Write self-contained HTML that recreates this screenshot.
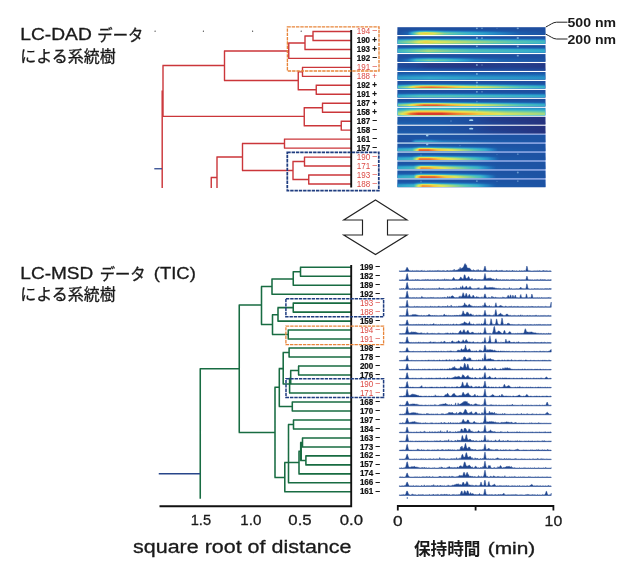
<!DOCTYPE html>
<html lang="ja"><head><meta charset="utf-8"><title>LC-DAD / LC-MSD dendrograms</title>
<style>
html,body{margin:0;padding:0;background:#fff}
body{width:640px;height:568px;overflow:hidden;position:relative;font-family:"Liberation Sans",sans-serif}
svg{position:absolute;left:0;top:0;display:block}
text{font-family:"Liberation Sans",sans-serif;fill:#1a1a1a}
.lb{font-size:8.4px;font-weight:bold;fill:#111;stroke:#111;stroke-width:0.2px}
.lr{font-size:8.4px;font-weight:normal;fill:#dc4a44}
.ax{font-size:14.8px;fill:#1a1a1a;stroke:#1a1a1a;stroke-width:0.3px}
.tt{font-size:15.8px;fill:#1a1a1a;stroke:#1a1a1a;stroke-width:0.3px}
.nm{font-size:13.7px;font-weight:bold;fill:#1a1a1a}
.jp{font-family:"Liberation Sans","Noto Sans CJK JP",sans-serif}
</style></head>
<body>
<svg width="640" height="568" viewBox="0 0 640 568" style="opacity:.999">
<defs>
<filter id="jet" x="0" y="0" width="1" height="1" color-interpolation-filters="sRGB"><feComponentTransfer><feFuncR type="table" tableValues="0.15 0.12 0.11 0.14 0.2 0.33 0.61 0.87 0.96 0.94 0.86"/><feFuncG type="table" tableValues="0.2 0.29 0.37 0.52 0.67 0.77 0.84 0.9 0.79 0.5 0.23"/><feFuncB type="table" tableValues="0.5 0.61 0.68 0.77 0.8 0.71 0.52 0.35 0.24 0.2 0.17"/></feComponentTransfer></filter>
<linearGradient id="gap" x1="0" y1="0" x2="1" y2="0"><stop offset="0" stop-color="#d4ecfa"/><stop offset="0.45" stop-color="#cfe6fa"/><stop offset="0.68" stop-color="#b2c5fb"/><stop offset="1" stop-color="#b0c2fa"/></linearGradient>
<linearGradient id="gvA" x1="0" y1="0" x2="0" y2="1"><stop offset="0" stop-color="#000000"/><stop offset="0.3" stop-color="#080808"/><stop offset="0.48" stop-color="#4c4c4c"/><stop offset="0.66" stop-color="#d9d9d9"/><stop offset="0.8" stop-color="#ffffff"/><stop offset="1" stop-color="#ffffff"/></linearGradient>
<mask id="mA" maskContentUnits="objectBoundingBox" x="0" y="0" width="1" height="1"><rect width="1" height="1" fill="url(#gvA)"/></mask>
<linearGradient id="gvA2" x1="0" y1="0" x2="0" y2="1"><stop offset="0" stop-color="#000000"/><stop offset="0.22" stop-color="#0d0d0d"/><stop offset="0.4" stop-color="#666666"/><stop offset="0.58" stop-color="#e6e6e6"/><stop offset="0.75" stop-color="#ffffff"/><stop offset="1" stop-color="#ffffff"/></linearGradient>
<mask id="mA2" maskContentUnits="objectBoundingBox" x="0" y="0" width="1" height="1"><rect width="1" height="1" fill="url(#gvA2)"/></mask>
<linearGradient id="gvB" x1="0" y1="0" x2="0" y2="1"><stop offset="0" stop-color="#1a1a1a"/><stop offset="0.25" stop-color="#595959"/><stop offset="0.5" stop-color="#bfbfbf"/><stop offset="0.72" stop-color="#ffffff"/><stop offset="1" stop-color="#ffffff"/></linearGradient>
<mask id="mB" maskContentUnits="objectBoundingBox" x="0" y="0" width="1" height="1"><rect width="1" height="1" fill="url(#gvB)"/></mask>
<linearGradient id="gvC" x1="0" y1="0" x2="0" y2="1"><stop offset="0" stop-color="#000000"/><stop offset="0.5" stop-color="#050505"/><stop offset="0.7" stop-color="#737373"/><stop offset="0.9" stop-color="#ffffff"/><stop offset="1" stop-color="#ffffff"/></linearGradient>
<mask id="mC" maskContentUnits="objectBoundingBox" x="0" y="0" width="1" height="1"><rect width="1" height="1" fill="url(#gvC)"/></mask>
<linearGradient id="hx0" x1="0" y1="0" x2="1" y2="0"><stop offset="0" stop-color="#1f1f1f"/><stop offset="0.07" stop-color="#383838"/><stop offset="0.11" stop-color="#808080"/><stop offset="0.15" stop-color="#b8b8b8"/><stop offset="0.19" stop-color="#c7c7c7"/><stop offset="0.24" stop-color="#b8b8b8"/><stop offset="0.32" stop-color="#8f8f8f"/><stop offset="0.46" stop-color="#737373"/><stop offset="0.63" stop-color="#575757"/><stop offset="0.83" stop-color="#333333"/><stop offset="1" stop-color="#262626"/></linearGradient>
<linearGradient id="hx1" x1="0" y1="0" x2="1" y2="0"><stop offset="0" stop-color="#808080"/><stop offset="0.09" stop-color="#999999"/><stop offset="0.14" stop-color="#b2b2b2"/><stop offset="0.19" stop-color="#c4c4c4"/><stop offset="0.29" stop-color="#b2b2b2"/><stop offset="0.49" stop-color="#9e9e9e"/><stop offset="0.69" stop-color="#8c8c8c"/><stop offset="1" stop-color="#737373"/></linearGradient>
<linearGradient id="hx2" x1="0" y1="0" x2="1" y2="0"><stop offset="0" stop-color="#737373"/><stop offset="0.12" stop-color="#8c8c8c"/><stop offset="0.21" stop-color="#9e9e9e"/><stop offset="0.36" stop-color="#8c8c8c"/><stop offset="0.49" stop-color="#808080"/><stop offset="0.76" stop-color="#737373"/><stop offset="1" stop-color="#666666"/></linearGradient>
<linearGradient id="hx3" x1="0" y1="0" x2="1" y2="0"><stop offset="0" stop-color="#262626"/><stop offset="0.07" stop-color="#404040"/><stop offset="0.13" stop-color="#7a7a7a"/><stop offset="0.21" stop-color="#8c8c8c"/><stop offset="0.32" stop-color="#808080"/><stop offset="0.41" stop-color="#6b6b6b"/><stop offset="0.52" stop-color="#4c4c4c"/><stop offset="0.69" stop-color="#383838"/><stop offset="1" stop-color="#262626"/></linearGradient>
<linearGradient id="hb4" x1="0" y1="0" x2="1" y2="0"><stop offset="0" stop-color="#1a1a1a"/><stop offset="0.12" stop-color="#141414"/><stop offset="0.21" stop-color="#080808"/><stop offset="0.49" stop-color="#050505"/><stop offset="0.73" stop-color="#0d0d0d"/><stop offset="1" stop-color="#080808"/></linearGradient>
<linearGradient id="hx4" x1="0" y1="0" x2="1" y2="0"><stop offset="0" stop-color="#3d3d3d"/><stop offset="0.15" stop-color="#333333"/><stop offset="0.49" stop-color="#262626"/><stop offset="1" stop-color="#1a1a1a"/></linearGradient>
<linearGradient id="hx5" x1="0" y1="0" x2="1" y2="0"><stop offset="0" stop-color="#5c5c5c"/><stop offset="0.22" stop-color="#666666"/><stop offset="0.56" stop-color="#5c5c5c"/><stop offset="1" stop-color="#545454"/></linearGradient>
<linearGradient id="hx6" x1="0" y1="0" x2="1" y2="0"><stop offset="0" stop-color="#808080"/><stop offset="0.07" stop-color="#9e9e9e"/><stop offset="0.12" stop-color="#d1d1d1"/><stop offset="0.16" stop-color="#e6e6e6"/><stop offset="0.23" stop-color="#ededed"/><stop offset="0.33" stop-color="#e0e0e0"/><stop offset="0.46" stop-color="#bfbfbf"/><stop offset="0.63" stop-color="#a6a6a6"/><stop offset="0.83" stop-color="#808080"/><stop offset="1" stop-color="#6b6b6b"/></linearGradient>
<linearGradient id="hx7" x1="0" y1="0" x2="1" y2="0"><stop offset="0" stop-color="#666666"/><stop offset="0.15" stop-color="#808080"/><stop offset="0.36" stop-color="#808080"/><stop offset="0.69" stop-color="#737373"/><stop offset="1" stop-color="#666666"/></linearGradient>
<linearGradient id="hx8" x1="0" y1="0" x2="1" y2="0"><stop offset="0" stop-color="#8c8c8c"/><stop offset="0.07" stop-color="#a8a8a8"/><stop offset="0.13" stop-color="#dbdbdb"/><stop offset="0.18" stop-color="#f5f5f5"/><stop offset="0.27" stop-color="#f2f2f2"/><stop offset="0.36" stop-color="#dbdbdb"/><stop offset="0.49" stop-color="#bfbfbf"/><stop offset="0.63" stop-color="#a6a6a6"/><stop offset="0.83" stop-color="#808080"/><stop offset="1" stop-color="#6b6b6b"/></linearGradient>
<linearGradient id="hx9" x1="0" y1="0" x2="1" y2="0"><stop offset="0" stop-color="#999999"/><stop offset="0.04" stop-color="#b8b8b8"/><stop offset="0.09" stop-color="#ebebeb"/><stop offset="0.14" stop-color="#ffffff"/><stop offset="0.3" stop-color="#ffffff"/><stop offset="0.4" stop-color="#e6e6e6"/><stop offset="0.5" stop-color="#d6d6d6"/><stop offset="0.59" stop-color="#c2c2c2"/><stop offset="0.73" stop-color="#adadad"/><stop offset="1" stop-color="#999999"/></linearGradient>
<linearGradient id="hb10" x1="0" y1="0" x2="1" y2="0"><stop offset="0" stop-color="#2b2b2b"/><stop offset="0.29" stop-color="#292929"/><stop offset="0.49" stop-color="#1f1f1f"/><stop offset="0.64" stop-color="#0d0d0d"/><stop offset="1" stop-color="#000000"/></linearGradient>
<linearGradient id="hx10" x1="0" y1="0" x2="1" y2="0"><stop offset="0" stop-color="#383838"/><stop offset="0.29" stop-color="#333333"/><stop offset="0.56" stop-color="#1a1a1a"/><stop offset="1" stop-color="#000000"/></linearGradient>
<linearGradient id="hb11" x1="0" y1="0" x2="1" y2="0"><stop offset="0" stop-color="#292929"/><stop offset="0.29" stop-color="#262626"/><stop offset="0.49" stop-color="#1c1c1c"/><stop offset="0.64" stop-color="#0d0d0d"/><stop offset="1" stop-color="#000000"/></linearGradient>
<linearGradient id="hx11" x1="0" y1="0" x2="1" y2="0"><stop offset="0" stop-color="#333333"/><stop offset="0.29" stop-color="#2e2e2e"/><stop offset="0.56" stop-color="#1a1a1a"/><stop offset="1" stop-color="#000000"/></linearGradient>
<linearGradient id="hx12" x1="0" y1="0" x2="1" y2="0"><stop offset="0" stop-color="#1f1f1f"/><stop offset="0.09" stop-color="#262626"/><stop offset="0.12" stop-color="#666666"/><stop offset="0.17" stop-color="#737373"/><stop offset="0.23" stop-color="#666666"/><stop offset="0.3" stop-color="#4c4c4c"/><stop offset="0.56" stop-color="#383838"/><stop offset="1" stop-color="#262626"/></linearGradient>
<linearGradient id="hx13" x1="0" y1="0" x2="1" y2="0"><stop offset="0" stop-color="#6b6b6b"/><stop offset="0.1" stop-color="#787878"/><stop offset="0.13" stop-color="#b2b2b2"/><stop offset="0.15" stop-color="#f2f2f2"/><stop offset="0.21" stop-color="#f2f2f2"/><stop offset="0.27" stop-color="#d1d1d1"/><stop offset="0.39" stop-color="#adadad"/><stop offset="0.49" stop-color="#8c8c8c"/><stop offset="0.59" stop-color="#6b6b6b"/><stop offset="0.68" stop-color="#333333"/><stop offset="1" stop-color="#262626"/></linearGradient>
<linearGradient id="hx14" x1="0" y1="0" x2="1" y2="0"><stop offset="0" stop-color="#666666"/><stop offset="0.1" stop-color="#737373"/><stop offset="0.13" stop-color="#b2b2b2"/><stop offset="0.15" stop-color="#ededed"/><stop offset="0.22" stop-color="#ebebeb"/><stop offset="0.31" stop-color="#c7c7c7"/><stop offset="0.42" stop-color="#a3a3a3"/><stop offset="0.52" stop-color="#808080"/><stop offset="0.61" stop-color="#5c5c5c"/><stop offset="0.69" stop-color="#2e2e2e"/><stop offset="1" stop-color="#262626"/></linearGradient>
<linearGradient id="hx15" x1="0" y1="0" x2="1" y2="0"><stop offset="0" stop-color="#666666"/><stop offset="0.11" stop-color="#737373"/><stop offset="0.14" stop-color="#b2b2b2"/><stop offset="0.16" stop-color="#e0e0e0"/><stop offset="0.22" stop-color="#d9d9d9"/><stop offset="0.3" stop-color="#b8b8b8"/><stop offset="0.42" stop-color="#949494"/><stop offset="0.54" stop-color="#707070"/><stop offset="0.67" stop-color="#2e2e2e"/><stop offset="1" stop-color="#262626"/></linearGradient>
<linearGradient id="hx16" x1="0" y1="0" x2="1" y2="0"><stop offset="0" stop-color="#666666"/><stop offset="0.11" stop-color="#737373"/><stop offset="0.13" stop-color="#bfbfbf"/><stop offset="0.16" stop-color="#f5f5f5"/><stop offset="0.25" stop-color="#f0f0f0"/><stop offset="0.33" stop-color="#cccccc"/><stop offset="0.44" stop-color="#a3a3a3"/><stop offset="0.56" stop-color="#787878"/><stop offset="0.67" stop-color="#2e2e2e"/><stop offset="1" stop-color="#262626"/></linearGradient>
<linearGradient id="hx17" x1="0" y1="0" x2="1" y2="0"><stop offset="0" stop-color="#5c5c5c"/><stop offset="0.11" stop-color="#707070"/><stop offset="0.14" stop-color="#b2b2b2"/><stop offset="0.17" stop-color="#e0e0e0"/><stop offset="0.22" stop-color="#d9d9d9"/><stop offset="0.29" stop-color="#b8b8b8"/><stop offset="0.42" stop-color="#8c8c8c"/><stop offset="0.54" stop-color="#6b6b6b"/><stop offset="0.67" stop-color="#2e2e2e"/><stop offset="1" stop-color="#262626"/></linearGradient>
</defs>
<g fill="#333"><circle cx="155.1" cy="31.2" r="0.6"/><circle cx="203.4" cy="31.2" r="0.6"/><circle cx="252.6" cy="31.2" r="0.6"/><circle cx="301.2" cy="31.2" r="0.6"/></g>
<rect x="397.4" y="133.42" width="148.1" height="53.35" fill="url(#gap)"/>
<g filter="url(#jet)">
<rect x="397.4" y="27.2" width="148.1" height="7.75" fill="#1f1f1f"/>
<rect x="397.4" y="27.2" width="148.1" height="7.75" fill="url(#hx0)" mask="url(#mA)"/>
<rect x="397.4" y="36.16" width="148.1" height="7.75" fill="#1f1f1f"/>
<rect x="397.4" y="36.16" width="148.1" height="7.75" fill="url(#hx1)" mask="url(#mA2)"/>
<rect x="397.4" y="45.12" width="148.1" height="7.75" fill="#1f1f1f"/>
<rect x="397.4" y="45.12" width="148.1" height="7.75" fill="url(#hx2)" mask="url(#mA2)"/>
<rect x="397.4" y="54.08" width="148.1" height="7.75" fill="#1f1f1f"/>
<rect x="397.4" y="54.08" width="148.1" height="7.75" fill="url(#hx3)" mask="url(#mA)"/>
<rect x="397.4" y="63.04" width="148.1" height="7.75" fill="url(#hb4)"/>
<rect x="397.4" y="63.04" width="148.1" height="7.75" fill="url(#hx4)" mask="url(#mC)"/>
<rect x="397.4" y="72" width="148.1" height="7.75" fill="#212121"/>
<rect x="397.4" y="72" width="148.1" height="7.75" fill="url(#hx5)" mask="url(#mB)"/>
<rect x="397.4" y="80.96" width="148.1" height="7.75" fill="#1f1f1f"/>
<rect x="397.4" y="80.96" width="148.1" height="7.75" fill="url(#hx6)" mask="url(#mA)"/>
<rect x="397.4" y="89.92" width="148.1" height="7.75" fill="#1f1f1f"/>
<rect x="397.4" y="89.92" width="148.1" height="7.75" fill="url(#hx7)" mask="url(#mA)"/>
<rect x="397.4" y="98.88" width="148.1" height="7.75" fill="#1f1f1f"/>
<rect x="397.4" y="98.88" width="148.1" height="7.75" fill="url(#hx8)" mask="url(#mA)"/>
<rect x="397.4" y="107.84" width="148.1" height="7.75" fill="#474747"/>
<rect x="397.4" y="107.84" width="148.1" height="7.75" fill="url(#hx9)" mask="url(#mB)"/>
<rect x="397.4" y="116.8" width="148.1" height="7.75" fill="url(#hb10)"/>
<rect x="397.4" y="116.8" width="148.1" height="7.75" fill="url(#hx10)" mask="url(#mC)"/>
<rect x="397.4" y="125.76" width="148.1" height="7.75" fill="url(#hb11)"/>
<rect x="397.4" y="125.76" width="148.1" height="7.75" fill="url(#hx11)" mask="url(#mC)"/>
<rect x="397.4" y="134.72" width="148.1" height="7.75" fill="#262626"/>
<rect x="397.4" y="134.72" width="148.1" height="7.75" fill="url(#hx12)" mask="url(#mC)"/>
<rect x="397.4" y="143.68" width="148.1" height="7.75" fill="#262626"/>
<rect x="397.4" y="143.68" width="148.1" height="7.75" fill="url(#hx13)" mask="url(#mA)"/>
<rect x="397.4" y="152.64" width="148.1" height="7.75" fill="#262626"/>
<rect x="397.4" y="152.64" width="148.1" height="7.75" fill="url(#hx14)" mask="url(#mA)"/>
<rect x="397.4" y="161.6" width="148.1" height="7.75" fill="#262626"/>
<rect x="397.4" y="161.6" width="148.1" height="7.75" fill="url(#hx15)" mask="url(#mA)"/>
<rect x="397.4" y="170.56" width="148.1" height="7.75" fill="#262626"/>
<rect x="397.4" y="170.56" width="148.1" height="7.75" fill="url(#hx16)" mask="url(#mA)"/>
<rect x="397.4" y="179.52" width="148.1" height="7.75" fill="#262626"/>
<rect x="397.4" y="179.52" width="148.1" height="7.75" fill="url(#hx17)" mask="url(#mA)"/>
</g>
<g fill="#b4e2f8"><ellipse cx="476.9" cy="28.37" rx="1" ry="0.9" fill-opacity="0.55"/><ellipse cx="482" cy="28.37" rx="0.9" ry="0.8" fill-opacity="0.45"/><ellipse cx="517.8" cy="28.37" rx="1.1" ry="0.9" fill-opacity="0.55"/><ellipse cx="497" cy="28.37" rx="0.7" ry="0.7" fill-opacity="0.3"/><ellipse cx="476.9" cy="38.11" rx="1.1" ry="1" fill-opacity="0.6"/><ellipse cx="482" cy="38.11" rx="1" ry="0.9" fill-opacity="0.5"/><ellipse cx="517.8" cy="38.11" rx="1.2" ry="1" fill-opacity="0.55"/><ellipse cx="476.9" cy="46.3" rx="1" ry="0.9" fill-opacity="0.55"/><ellipse cx="517.8" cy="46.45" rx="1.1" ry="0.9" fill-opacity="0.55"/><ellipse cx="517.8" cy="55.64" rx="1.1" ry="0.9" fill-opacity="0.55"/><ellipse cx="476.9" cy="64.99" rx="1" ry="0.9" fill-opacity="0.55"/><ellipse cx="482" cy="64.99" rx="0.8" ry="0.8" fill-opacity="0.35"/><ellipse cx="476.9" cy="73.95" rx="1" ry="0.9" fill-opacity="0.55"/><ellipse cx="476.9" cy="82.52" rx="1.1" ry="1" fill-opacity="0.55"/><ellipse cx="476.9" cy="86.01" rx="0.9" ry="1.2" fill-opacity="0.35"/><ellipse cx="476.9" cy="91.87" rx="1" ry="0.9" fill-opacity="0.55"/><ellipse cx="482" cy="91.87" rx="0.8" ry="0.8" fill-opacity="0.4"/><ellipse cx="476.9" cy="101.61" rx="0.9" ry="0.9" fill-opacity="0.3"/><ellipse cx="476.9" cy="110.18" rx="0.9" ry="0.9" fill-opacity="0.35"/><ellipse cx="471.2" cy="120.15" rx="2.2" ry="0.9" fill-opacity="0.9"/><ellipse cx="451" cy="121.08" rx="0.9" ry="0.8" fill-opacity="0.3"/><ellipse cx="471.2" cy="128.64" rx="2.2" ry="0.9" fill-opacity="0.9"/><ellipse cx="427.2" cy="135.59" rx="1.3" ry="1" fill-opacity="0.85"/><ellipse cx="427.2" cy="144.47" rx="1.2" ry="0.9" fill-opacity="0.7"/><ellipse cx="460" cy="145.63" rx="0.7" ry="0.7" fill-opacity="0.3"/><ellipse cx="421" cy="154.98" rx="0.7" ry="0.7" fill-opacity="0.3"/><ellipse cx="421" cy="172.51" rx="0.7" ry="1" fill-opacity="0.35"/><ellipse cx="421" cy="181.47" rx="0.7" ry="1" fill-opacity="0.35"/><ellipse cx="517.8" cy="154.2" rx="0.9" ry="0.9" fill-opacity="0.35"/><ellipse cx="517.8" cy="172.51" rx="1" ry="1" fill-opacity="0.5"/><ellipse cx="517.8" cy="181.08" rx="0.9" ry="0.9" fill-opacity="0.4"/><ellipse cx="476.9" cy="181.08" rx="0.9" ry="0.9" fill-opacity="0.5"/><ellipse cx="497" cy="154.59" rx="0.6" ry="0.6" fill-opacity="0.25"/><ellipse cx="497" cy="181.47" rx="0.6" ry="0.6" fill-opacity="0.25"/></g>
<path d="M545.8 27C550 25 553 22.2 556.6 22.2H567.5M545.8 34.2C550 36 553 39 556.6 39H567.5" fill="none" stroke="#222" stroke-width="1"/>
<text class="nm" x="567.5" y="27" textLength="48.5" lengthAdjust="spacingAndGlyphs">500 nm</text>
<text class="nm" x="567.5" y="43.8" textLength="48.5" lengthAdjust="spacingAndGlyphs">200 nm</text>
<path d="M312.4 31.5H351.25M312.4 40.47H351.25M313 31.5V40.47M304.4 36H313M304.4 49.44H351.25M305 36V49.44M288.15 43H305M288.15 58.41H351.25M288.75 43V58.41M223.9 51H288.75M301.9 67.38H351.25M301.9 76.35H351.25M302.5 67.38V76.35M315.65 85.32H351.25M315.65 94.29H351.25M316.25 85.32V94.29M297.65 71.9H302.5M297.65 89.8H316.25M298.25 71.9V89.8M223.9 80.5H298.25M224.5 51V80.5M162.4 65.5H224.5M321.9 103.26H351.25M321.9 112.23H351.25M322.5 103.26V112.23M340.65 121.2H351.25M340.65 130.17H351.25M341.25 121.2V130.17M303.65 107.7H322.5M303.65 125.7H341.25M304.25 107.7V125.7M162.4 116.4H304.25M163 65.5V116.4M283.9 139.14H351.25M283.9 148.11H351.25M284.5 139.14V148.11M241.9 143.5H284.5M303.9 157.08H351.25M303.9 166.05H351.25M304.5 157.08V166.05M308.15 175.02H351.25M308.15 183.99H351.25M308.75 175.02V183.99M292.4 161.5H304.5M292.4 179.5H308.75M293 161.5V179.5M241.9 170.5H293M242.5 143.5V170.5M216.4 157H242.5M217 157V188M210.65 177.5H217M211.25 177.5V188" fill="none" stroke="#cb363a" stroke-width="1.4"/>
<path d="M162.2 90.5V188" fill="none" stroke="#cb363a" stroke-width="1.45"/>
<path d="M154.3 168.75H162" fill="none" stroke="#2f4a90" stroke-width="1.3"/>
<path d="M299.9 267.2H351.25M299.9 276.19H351.25M300.5 267.2V276.19M292.65 271.69H300.5M292.65 285.17H351.25M293.25 271.69V285.17M271.4 278.9H293.25M271.4 294.15H351.25M272 278.9V294.15M260.9 286.5H272M292.65 303.14H351.25M292.65 312.12H351.25M293.25 303.14V312.12M277.4 307.63H293.25M277.4 321.11H351.25M278 307.63V321.11M287.65 330.09H351.25M287.65 339.08H351.25M288.25 330.09V339.08M271.9 314.7H278M271.9 334.59H288.25M272.5 314.7V334.59M260.9 324.5H272.5M261.5 286.5V324.5M238.65 305H261.5M288.5 348.06H351.25M288.5 357.05H351.25M289.1 348.06V357.05M282.6 352.56H289.1M298 366.03H351.25M298 375.02H351.25M298.6 366.03V375.02M290.1 370.53H298.6M282.6 384H351.25M290.7 370.53V384M289 392.99H351.25M289.6 377.8V392.99M283.2 352.56V384M278.7 368.6H283.2M291.7 401.97H351.25M291.7 410.96H351.25M292.3 401.97V410.96M278.7 406.47H292.3M279.3 368.6V406.47M274.4 387.3H279.3M275 387.3V477.4M292.9 419.94H351.25M292.9 428.93H351.25M293.5 419.94V428.93M287.9 424.44H293.5M287.9 482.84H351.25M288.5 424.44V482.84M301.9 437.91H351.25M301.9 446.9H351.25M302.5 437.91V446.9M305.3 455.88H351.25M305.3 464.87H351.25M305.9 455.88V464.87M300.1 442.6H302.5M300.1 460.4H305.9M300.7 442.6V460.4M301.2 442.6V460.4M298.4 451.2H300.7M298.4 473.85H351.25M299 451.2V473.85M284.2 462.4H299M284.2 491.82H351.25M284.8 462.4V491.82M274.4 477.4H284.8M238.65 432.5H275M239.25 305V432.5M199.65 368.75H239.25M200.25 368.75V498.75" fill="none" stroke="#186c42" stroke-width="1.55"/>
<path d="M158.75 473.75H200.25" fill="none" stroke="#28468a" stroke-width="1.4"/>
<path d="M351.2 30V187.5M351.2 265V507.2M159.5 506.25H352.1" fill="none" stroke="#111" stroke-width="1.9"/>
<path d="M397.8 510.6V506H553.4V510.6M475.6 506V510.6" fill="none" stroke="#111" stroke-width="1.8"/>
<rect x="287.4" y="26.8" width="91.6" height="44.2" fill="none" stroke="#e8853a" stroke-width="1.35" stroke-dasharray="3.4 0.9"/>
<rect x="287.3" y="152.3" width="91.5" height="38.3" fill="none" stroke="#1f3d80" stroke-width="1.75" stroke-dasharray="3.4 0.9"/>
<rect x="285.9" y="298.8" width="97.7" height="18" fill="none" stroke="#1f3d80" stroke-width="1.5" stroke-dasharray="3.4 0.9"/>
<rect x="285.9" y="326.1" width="97.7" height="18.5" fill="none" stroke="#e8853a" stroke-width="1.3" stroke-dasharray="3.4 0.9"/>
<rect x="286" y="378.8" width="97.6" height="18.6" fill="none" stroke="#1f3d80" stroke-width="1.5" stroke-dasharray="3.4 0.9"/>
<path d="M375.5 200L407 220H387.5V235H407L375.5 254.5L343.75 235H362.5V220H343.75Z" fill="#fff" stroke="#222" stroke-width="1.15" stroke-linejoin="miter"/>
<g fill="#1f4690" stroke="#1f4690" stroke-width="0.45" stroke-linejoin="round">
<path d="M399.36 271.45 L399.36 270.67 399.85 270.91 400.35 270.99 400.85 270.92 401.35 270.85 401.85 271 402.34 271 402.84 270.66 403.34 270.8 403.84 270.88 404.34 270.85 404.83 270.84 405.33 270.45 405.83 269.76 406.33 268.64 406.82 267.42 407.32 267.46 407.82 268.37 408.32 269.5 408.82 270.1 409.31 270.49 409.81 270.93 410.31 270.91 410.81 270.58 411.31 270.99 411.8 270.7 412.3 270.66 412.8 270.52 413.3 270.78 413.8 270.91 414.29 270.84 414.79 270.77 415.29 270.64 415.79 270.88 416.29 270.55 416.78 270.85 417.28 270.73 417.78 270.67 418.28 270.6 418.77 270.93 419.27 270.81 419.77 270.96 420.27 270.87 420.77 270.82 421.26 270.6 421.76 270.57 422.26 270.91 422.76 270.46 423.26 270.93 423.75 270.87 424.25 270.53 424.75 270.94 425.25 270.97 425.75 270.94 426.24 270.97 426.74 270.92 427.24 270.63 427.74 270.87 428.24 270.97 428.73 270.68 429.23 270.9 429.73 270.48 430.23 270.97 430.72 270.53 431.22 270.89 431.72 270.75 432.22 270.66 432.72 270.69 433.21 270.91 433.71 270.65 434.21 270.55 434.71 270.91 435.21 270.97 435.7 270.55 436.2 270.53 436.7 270.93 437.2 270.89 437.7 270.2 438.19 270.94 438.69 270.41 439.19 270.78 439.69 270.7 440.19 270.86 440.68 270.68 441.18 270.93 441.68 270.79 442.18 270.89 442.68 270.53 443.17 270.44 443.67 270.75 444.17 270.8 444.67 270.75 445.16 271 445.66 270.97 446.16 270.74 446.66 270.98 447.16 270.11 447.65 270.65 448.15 270.86 448.65 270.81 449.15 270.64 449.65 270.84 450.14 270.83 450.64 270.38 451.14 270.69 451.64 270.73 452.14 270.35 452.63 270.87 453.13 270.17 453.63 270.68 454.13 269.04 454.63 270.66 455.12 270.26 455.62 270.4 456.12 270 456.62 270.36 457.11 270.31 457.61 269.97 458.11 269.7 458.61 269.01 459.11 269.44 459.6 269.01 460.1 267.27 460.6 268.89 461.1 268.69 461.6 268.13 462.09 268.06 462.59 267.89 463.09 267.25 463.59 266.91 464.09 265.59 464.58 264.37 465.08 263.56 465.58 264.2 466.08 265.18 466.58 265.33 467.07 268.1 467.57 267.95 468.07 267.72 468.57 268.29 469.06 267.9 469.56 268.18 470.06 268.79 470.56 269.22 471.06 269.66 471.55 270.29 472.05 270.55 472.55 270.37 473.05 270.7 473.55 269.58 474.04 270.91 474.54 270.07 475.04 270.87 475.54 270.64 476.04 270.46 476.53 270.17 477.03 270.25 477.53 270.63 478.03 269.39 478.53 270.28 479.02 270.56 479.52 270.81 480.02 270.13 480.52 270.31 481.01 270.78 481.51 270.49 482.01 270.68 482.51 270.74 483.01 270.5 483.5 270.43 484 269.35 484.5 267.2 485 265.99 485.5 267.52 485.99 269.72 486.49 270.83 486.99 270.58 487.49 270.76 487.99 270.45 488.48 270.72 488.98 270.8 489.48 270.84 489.98 270.88 490.48 270.51 490.97 270.95 491.47 270.27 491.97 270.47 492.47 270.72 492.96 270.9 493.46 270.57 493.96 270.9 494.46 270.72 494.96 270.6 495.45 270.71 495.95 270.26 496.45 270.26 496.95 270.33 497.45 270.78 497.94 270.68 498.44 270.95 498.94 270.43 499.44 270.66 499.94 270.52 500.43 270.56 500.93 270.88 501.43 270.75 501.93 269.93 502.43 270.75 502.92 270.86 503.42 270.95 503.92 270.65 504.42 270.9 504.92 270.82 505.41 270.91 505.91 270.86 506.41 270.83 506.91 270.27 507.4 270.99 507.9 270.66 508.4 270.84 508.9 270.95 509.4 270.53 509.89 270.94 510.39 270.94 510.89 270.73 511.39 270.99 511.89 270.82 512.38 270.06 512.88 270.99 513.38 270.82 513.88 270.97 514.38 270.87 514.87 270.76 515.37 270.98 515.87 270.9 516.37 270.72 516.87 270.73 517.36 270.92 517.86 270.88 518.36 270.93 518.86 270.97 519.35 270.57 519.85 270.71 520.35 271 520.85 270.84 521.35 270.74 521.84 270.72 522.34 270.87 522.84 270.98 523.34 270.7 523.84 270.96 524.33 270.95 524.83 270.23 525.33 270.89 525.83 270.64 526.33 268.6 526.82 266.06 527.32 267.07 527.82 270 528.32 270.78 528.82 270.74 529.31 270.83 529.81 270.64 530.31 270.92 530.81 270.71 531.3 270.99 531.8 270.9 532.3 270.94 532.8 270.9 533.3 270.87 533.79 271 534.29 270.73 534.79 270.9 535.29 270.86 535.79 270.88 536.28 270.82 536.78 270.89 537.28 270.92 537.78 270.55 538.28 270.83 538.77 270.89 539.27 270.59 539.77 270.66 540.27 270.96 540.77 270.85 541.26 270.98 541.76 270.91 542.26 270.79 542.76 270.74 543.25 270.83 543.75 270.26 544.25 270.99 544.75 270.76 545.25 270.82 545.74 270.92 546.24 270.81 546.74 270.65 547.24 271 547.74 270.68 548.23 270.89 548.73 270.94 549.23 270.97 549.73 270.7 550.23 270.95 550.72 270.82 551.22 270.97 L551.22 271.45Z"/>
<path d="M399.36 280.41 L399.36 279.95 399.85 279.76 400.35 279.9 400.85 279.88 401.35 279.9 401.85 279.86 402.34 279.62 402.84 279.96 403.34 279.88 403.84 279.79 404.34 279.94 404.83 279.86 405.33 279.53 405.83 279.01 406.33 276.89 406.82 274.07 407.32 273.54 407.82 276.02 408.32 278.48 408.82 279.69 409.31 279.91 409.81 279.93 410.31 279.86 410.81 279.89 411.31 279.91 411.8 279.8 412.3 279.8 412.8 279.79 413.3 279.79 413.8 279.93 414.29 279.92 414.79 279.71 415.29 279.6 415.79 279.5 416.29 279.87 416.78 279.89 417.28 279.2 417.78 279.96 418.28 279.74 418.77 279.64 419.27 279.79 419.77 279.94 420.27 279.95 420.77 279.91 421.26 279.8 421.76 279.91 422.26 279.72 422.76 279.7 423.26 279.95 423.75 279.56 424.25 279.82 424.75 279.85 425.25 279.36 425.75 279.77 426.24 279.96 426.74 279.56 427.24 279.47 427.74 279.51 428.24 279.77 428.73 279.44 429.23 279.81 429.73 279.89 430.23 279.54 430.72 279.82 431.22 279.83 431.72 279.94 432.22 279.41 432.72 279.86 433.21 279.91 433.71 279.68 434.21 279.33 434.71 279.75 435.21 279.85 435.7 279.82 436.2 279.9 436.7 279.64 437.2 279.5 437.7 279.58 438.19 279.29 438.69 279.76 439.19 279.95 439.69 279.74 440.19 279.71 440.68 279.76 441.18 279.64 441.68 279.85 442.18 279.78 442.68 279.46 443.17 279.84 443.67 279.66 444.17 279.74 444.67 278.66 445.16 279.79 445.66 279.85 446.16 279.68 446.66 279.34 447.16 279.48 447.65 279.66 448.15 279.26 448.65 279.76 449.15 279.81 449.65 279.68 450.14 279.64 450.64 279.67 451.14 279.89 451.64 279.69 452.14 279.25 452.63 278.99 453.13 278.36 453.63 277.36 454.13 278.4 454.63 278.81 455.12 279.22 455.62 279.77 456.12 279.57 456.62 279.59 457.11 279.68 457.61 279.79 458.11 279.2 458.61 279.73 459.11 279.04 459.6 278.86 460.1 278.34 460.6 277.01 461.1 277.2 461.6 278.27 462.09 278.42 462.59 279.02 463.09 278.92 463.59 278.2 464.09 275.47 464.58 274.65 465.08 275.34 465.58 277.34 466.08 278.16 466.58 278.53 467.07 278.34 467.57 278.29 468.07 277.03 468.57 276.48 469.06 277.2 469.56 278.52 470.06 279.31 470.56 279.28 471.06 278.89 471.55 279.28 472.05 278.18 472.55 279.43 473.05 279.62 473.55 279.91 474.04 279.32 474.54 279.45 475.04 279.43 475.54 279.11 476.04 279.42 476.53 279.6 477.03 279.74 477.53 279.9 478.03 279.13 478.53 279.9 479.02 279.11 479.52 279.71 480.02 279.67 480.52 279.49 481.01 279.92 481.51 279.73 482.01 279.24 482.51 279.65 483.01 279.56 483.5 279.39 484 278.08 484.5 275.15 485 273.38 485.5 275.4 485.99 277.9 486.49 279.06 486.99 278.79 487.49 278.43 487.99 278.48 488.48 278.32 488.98 278.35 489.48 278.15 489.98 278.45 490.48 278.06 490.97 278.54 491.47 278.71 491.97 278.64 492.47 279.17 492.96 278.95 493.46 279.11 493.96 279.26 494.46 279.68 494.96 279.69 495.45 279.72 495.95 279.69 496.45 278.41 496.95 279.45 497.45 279.4 497.94 279.49 498.44 279.41 498.94 279.89 499.44 279.81 499.94 279.55 500.43 279.41 500.93 279.74 501.43 279.95 501.93 279.78 502.43 279.81 502.92 279.5 503.42 279.75 503.92 279.69 504.42 279.69 504.92 279.62 505.41 279.93 505.91 279.74 506.41 279.51 506.91 279.77 507.4 279.73 507.9 279.84 508.4 279.67 508.9 279.76 509.4 279.93 509.89 279.92 510.39 279.63 510.89 279.86 511.39 279.81 511.89 279.61 512.38 279.46 512.88 279.63 513.38 279.62 513.88 279.69 514.38 279.6 514.87 279.86 515.37 279.86 515.87 279.93 516.37 279.76 516.87 279.87 517.36 279.92 517.86 279.85 518.36 279.76 518.86 279.56 519.35 279.57 519.85 279.91 520.35 279.91 520.85 279.43 521.35 279.82 521.84 279.87 522.34 279.72 522.84 279.79 523.34 279.79 523.84 279.86 524.33 279.68 524.83 279.85 525.33 279.93 525.83 279.37 526.33 278.02 526.82 276.07 527.32 276.72 527.82 278.9 528.32 279.72 528.82 279.67 529.31 279.84 529.81 279.76 530.31 279.81 530.81 279.77 531.3 279.72 531.8 279.95 532.3 279.86 532.8 279.73 533.3 279.89 533.79 279.91 534.29 279.82 534.79 279.76 535.29 279.74 535.79 279.88 536.28 279.86 536.78 279.67 537.28 279.49 537.78 279.71 538.28 279.93 538.77 279.66 539.27 279.88 539.77 279.8 540.27 279.33 540.77 279.74 541.26 279.95 541.76 279.51 542.26 279.83 542.76 279.6 543.25 279.77 543.75 279.74 544.25 279.61 544.75 279.72 545.25 279.77 545.74 279.84 546.24 279.95 546.74 279.9 547.24 279.68 547.74 279.93 548.23 279.78 548.73 279.78 549.23 279.93 549.73 279.84 550.23 279.79 550.72 279.7 551.22 279.64 L551.22 280.41Z"/>
<path d="M399.36 289.37 L399.36 288.86 399.85 288.77 400.35 288.91 400.85 288.82 401.35 288.61 401.85 288.69 402.34 288.7 402.84 288.85 403.34 288.19 403.84 288.87 404.34 288.89 404.83 288.9 405.33 288.59 405.83 287.92 406.33 285.67 406.82 282.84 407.32 282.51 407.82 284.98 408.32 287.27 408.82 288.38 409.31 288.78 409.81 288.55 410.31 288.84 410.81 288.85 411.31 288.89 411.8 288.85 412.3 288.42 412.8 288.83 413.3 288.83 413.8 288.92 414.29 288.29 414.79 288.68 415.29 288.79 415.79 288.83 416.29 288.76 416.78 288.87 417.28 288.87 417.78 288.46 418.28 288.71 418.77 288.39 419.27 288.79 419.77 288.76 420.27 288.35 420.77 288.68 421.26 288.69 421.76 288.87 422.26 288.69 422.76 288.05 423.26 288.7 423.75 288.52 424.25 288.81 424.75 288.87 425.25 288.88 425.75 288.83 426.24 288.4 426.74 288.89 427.24 288.82 427.74 288.69 428.24 288.48 428.73 288.72 429.23 288.71 429.73 288.7 430.23 288.89 430.72 288.45 431.22 288.71 431.72 288.65 432.22 288.81 432.72 288.52 433.21 288.65 433.71 288.67 434.21 288.48 434.71 288.68 435.21 288.7 435.7 288.74 436.2 288.69 436.7 288.45 437.2 288.85 437.7 288.69 438.19 288.65 438.69 288.84 439.19 287.56 439.69 288.19 440.19 288.62 440.68 288.7 441.18 288.07 441.68 288.91 442.18 288.84 442.68 288.14 443.17 288.8 443.67 288.27 444.17 288.61 444.67 288.92 445.16 288.89 445.66 288.77 446.16 288.8 446.66 288.83 447.16 288.78 447.65 288.69 448.15 288.39 448.65 288.78 449.15 288.33 449.65 288.5 450.14 288.83 450.64 288.66 451.14 288.73 451.64 288.76 452.14 288.66 452.63 288.86 453.13 288.05 453.63 288.58 454.13 288.26 454.63 288.58 455.12 288.61 455.62 288.9 456.12 287.44 456.62 288.81 457.11 288.44 457.61 288.64 458.11 288.25 458.61 288.41 459.11 288.32 459.6 288.54 460.1 288.67 460.6 286.65 461.1 288.37 461.6 288 462.09 286.85 462.59 285.63 463.09 286.95 463.59 288.24 464.09 288.26 464.58 287.79 465.08 288.05 465.58 286.88 466.08 286.22 466.58 286.27 467.07 287.72 467.57 288.09 468.07 288.28 468.57 287.81 469.06 287.92 469.56 286.9 470.06 286.3 470.56 287.29 471.06 288.12 471.55 288.23 472.05 288.53 472.55 288.65 473.05 288.58 473.55 288.81 474.04 288.74 474.54 288.44 475.04 288.88 475.54 288.33 476.04 288.91 476.53 288.77 477.03 287.95 477.53 288.67 478.03 287.69 478.53 288.31 479.02 287.62 479.52 288.9 480.02 288.85 480.52 288.86 481.01 288.6 481.51 288.79 482.01 288.55 482.51 288.82 483.01 288.67 483.5 288.63 484 288.08 484.5 286.66 485 285.31 485.5 286.12 485.99 287.6 486.49 287.59 486.99 288.22 487.49 287.62 487.99 287.95 488.48 287.58 488.98 287.88 489.48 287.48 489.98 287.24 490.48 287.63 490.97 287.2 491.47 287.6 491.97 287.72 492.47 287.37 492.96 287.81 493.46 287.77 493.96 287.76 494.46 287.79 494.96 288.18 495.45 288.19 495.95 288.2 496.45 288.29 496.95 288.5 497.45 288.51 497.94 288.58 498.44 288.38 498.94 288.52 499.44 288.8 499.94 288.21 500.43 288.54 500.93 288.79 501.43 288.89 501.93 288.66 502.43 288.67 502.92 288.81 503.42 288.35 503.92 288.81 504.42 288.45 504.92 288.56 505.41 288.75 505.91 288.75 506.41 288.84 506.91 288.87 507.4 288.86 507.9 288.72 508.4 288.81 508.9 288.71 509.4 287.51 509.89 288.67 510.39 288.84 510.89 288.71 511.39 288.47 511.89 288.56 512.38 288.91 512.88 288.85 513.38 288.8 513.88 288.9 514.38 288.84 514.87 288.84 515.37 288.75 515.87 288.84 516.37 288.68 516.87 288.55 517.36 288.78 517.86 288.66 518.36 288.84 518.86 288.69 519.35 288.54 519.85 288.12 520.35 287.65 520.85 287.13 521.35 287.88 521.84 288.56 522.34 288.53 522.84 288.75 523.34 288.85 523.84 288.46 524.33 288.65 524.83 288.73 525.33 288.78 525.83 288.49 526.33 286.6 526.82 283.73 527.32 285.1 527.82 287.68 528.32 288.46 528.82 288.87 529.31 288.9 529.81 288.87 530.31 288.9 530.81 288.91 531.3 288.77 531.8 288.78 532.3 288.88 532.8 288.78 533.3 288.9 533.79 288.8 534.29 288.76 534.79 288.23 535.29 288.77 535.79 288.82 536.28 288.74 536.78 288.69 537.28 288.75 537.78 288.58 538.28 288.64 538.77 288.72 539.27 288.76 539.77 288.88 540.27 288.73 540.77 288.73 541.26 288.79 541.76 288.83 542.26 288.76 542.76 288.66 543.25 288.88 543.75 288.77 544.25 288.79 544.75 288.64 545.25 288.65 545.74 288.56 546.24 288.61 546.74 288.86 547.24 288.61 547.74 288.79 548.23 288.84 548.73 288.83 549.23 288.59 549.73 288.47 550.23 288.49 550.72 288.77 551.22 288.56 L551.22 289.37Z"/>
<path d="M399.36 298.33 L399.36 297.8 399.85 297.77 400.35 297.86 400.85 297.44 401.35 297.79 401.85 297.85 402.34 297.79 402.84 297.75 403.34 297.86 403.84 297.68 404.34 297.74 404.83 297.81 405.33 297.55 405.83 296.85 406.33 294.67 406.82 291.51 407.32 291.08 407.82 293.81 408.32 296.26 408.82 297.39 409.31 297.56 409.81 297.82 410.31 297.82 410.81 297.45 411.31 297.67 411.8 297.81 412.3 297.62 412.8 297.79 413.3 297.81 413.8 297.43 414.29 297.6 414.79 297.65 415.29 297.84 415.79 297.87 416.29 297.55 416.78 297.51 417.28 297.63 417.78 297.7 418.28 297.65 418.77 297.73 419.27 297.6 419.77 297.82 420.27 297.84 420.77 297.76 421.26 297.31 421.76 296.45 422.26 296.78 422.76 297.38 423.26 297.49 423.75 297.63 424.25 297.47 424.75 297.64 425.25 297.5 425.75 297.76 426.24 297.87 426.74 297.76 427.24 297.86 427.74 297.42 428.24 297.55 428.73 297.75 429.23 297.6 429.73 297.71 430.23 297.63 430.72 297.35 431.22 297.54 431.72 297.6 432.22 297.77 432.72 297.45 433.21 297.17 433.71 297.8 434.21 297.64 434.71 297.74 435.21 297.69 435.7 297.75 436.2 297.68 436.7 297.66 437.2 297.74 437.7 297.55 438.19 297.59 438.69 297.76 439.19 297.73 439.69 297.82 440.19 297.87 440.68 297.46 441.18 297.83 441.68 297.76 442.18 297.23 442.68 297.63 443.17 297.39 443.67 297.78 444.17 297.25 444.67 297.18 445.16 297.77 445.66 297.44 446.16 297.69 446.66 297.76 447.16 297.71 447.65 296.27 448.15 297.39 448.65 297.21 449.15 297.33 449.65 296.49 450.14 297.57 450.64 297.26 451.14 296.33 451.64 296.26 452.14 295.85 452.63 295.79 453.13 296.41 453.63 296.6 454.13 297.18 454.63 297.55 455.12 297.51 455.62 297.76 456.12 297.54 456.62 297.59 457.11 297.67 457.61 297.58 458.11 297.71 458.61 297.56 459.11 296.41 459.6 297.2 460.1 295.79 460.6 297.48 461.1 297.32 461.6 296.4 462.09 296.01 462.59 294.14 463.09 292.68 463.59 293.4 464.09 295.44 464.58 296.36 465.08 296.18 465.58 295.04 466.08 293.21 466.58 293.85 467.07 295.51 467.57 296.72 468.07 296.48 468.57 296.04 469.06 294.57 469.56 294.51 470.06 295.69 470.56 296.93 471.06 297.31 471.55 296.8 472.05 297.15 472.55 296.45 473.05 295.09 473.55 295.77 474.04 296.22 474.54 297.43 475.04 297.19 475.54 297.52 476.04 297.34 476.53 296.44 477.03 297.44 477.53 297.01 478.03 297.1 478.53 296.97 479.02 297.7 479.52 297.6 480.02 297.57 480.52 297.44 481.01 297.66 481.51 297.25 482.01 296.74 482.51 297.64 483.01 297.71 483.5 297.71 484 296.58 484.5 294.74 485 293.82 485.5 295.05 485.99 297.09 486.49 297.41 486.99 297.79 487.49 297.88 487.99 297.43 488.48 297.42 488.98 297.3 489.48 297.56 489.98 297.86 490.48 297.74 490.97 297.75 491.47 297.25 491.97 296.09 492.47 297.23 492.96 297.84 493.46 296.86 493.96 297.86 494.46 297.76 494.96 297.49 495.45 296.99 495.95 297.42 496.45 297.53 496.95 297.87 497.45 297.66 497.94 297.53 498.44 297.66 498.94 297.71 499.44 297.76 499.94 297.78 500.43 297.73 500.93 297.59 501.43 297.75 501.93 297.83 502.43 297.76 502.92 296.79 503.42 297.49 503.92 297.57 504.42 297.61 504.92 297.53 505.41 297.86 505.91 297.68 506.41 297.15 506.91 297.51 507.4 297.19 507.9 295.43 508.4 295.4 508.9 296.51 509.4 297.61 509.89 296.62 510.39 294.78 510.89 295.42 511.39 297.26 511.89 297.7 512.38 296.62 512.88 295.11 513.38 296.14 513.88 297.58 514.38 297.56 514.87 296.09 515.37 295.03 515.87 296.79 516.37 297.59 516.87 297.75 517.36 297.61 517.86 297.77 518.36 297.83 518.86 297.84 519.35 297.87 519.85 297.41 520.35 295.49 520.85 294.45 521.35 296.79 521.84 297.55 522.34 297.6 522.84 297.77 523.34 297.74 523.84 297.47 524.33 297.6 524.83 297.83 525.33 297.77 525.83 296.78 526.33 293.84 526.82 294.94 527.32 297.27 527.82 297.85 528.32 297.68 528.82 297.71 529.31 297.48 529.81 297.53 530.31 297.78 530.81 297.61 531.3 296.4 531.8 294.03 532.3 294.93 532.8 297.37 533.3 297.77 533.79 297.84 534.29 297.73 534.79 297.76 535.29 297.7 535.79 297.81 536.28 297.71 536.78 297.77 537.28 297.83 537.78 297.47 538.28 297.81 538.77 297.86 539.27 297.84 539.77 297.49 540.27 297.76 540.77 297.88 541.26 297.56 541.76 297.6 542.26 297.77 542.76 297.86 543.25 297.84 543.75 297.76 544.25 297.74 544.75 297.69 545.25 297.85 545.74 297.79 546.24 297.74 546.74 297.81 547.24 297.79 547.74 297.79 548.23 297.27 548.73 297.76 549.23 297.4 549.73 297.86 550.23 297.76 550.72 297.86 551.22 297.67 L551.22 298.33Z"/>
<path d="M399.36 307.29 L399.36 306.81 399.85 306.68 400.35 306.67 400.85 306.72 401.35 306.83 401.85 306.83 402.34 306.73 402.84 306.47 403.34 306.82 403.84 306.59 404.34 306.72 404.83 306.74 405.33 306.75 405.83 306.22 406.33 304.18 406.82 300.68 407.32 300.17 407.82 303.42 408.32 305.92 408.82 306.63 409.31 306.76 409.81 306.56 410.31 306.78 410.81 306.82 411.31 306.73 411.8 306.83 412.3 306.82 412.8 306.68 413.3 306.71 413.8 306.67 414.29 306.32 414.79 306.47 415.29 306.81 415.79 306.67 416.29 306.59 416.78 306.62 417.28 306.61 417.78 306.43 418.28 306.6 418.77 306.77 419.27 306.57 419.77 306.67 420.27 306.83 420.77 306.74 421.26 306.6 421.76 306.75 422.26 306.59 422.76 306.71 423.26 306.83 423.75 306.63 424.25 306.82 424.75 306.65 425.25 306.22 425.75 306.7 426.24 306.71 426.74 306.58 427.24 306.51 427.74 306.77 428.24 306.71 428.73 306.71 429.23 306.79 429.73 306.65 430.23 306.37 430.72 306.33 431.22 306.81 431.72 306.38 432.22 306.41 432.72 306.61 433.21 306.64 433.71 306.75 434.21 306.32 434.71 306.74 435.21 306.71 435.7 306.48 436.2 306.72 436.7 306.73 437.2 306.72 437.7 306.83 438.19 305.99 438.69 306.36 439.19 306.68 439.69 306.29 440.19 306.5 440.68 306.74 441.18 306.83 441.68 306.82 442.18 306.13 442.68 306.51 443.17 306.38 443.67 306.48 444.17 306.36 444.67 306.67 445.16 306.78 445.66 306.02 446.16 306.61 446.66 306.66 447.16 306.68 447.65 305.43 448.15 306.37 448.65 306.74 449.15 306.77 449.65 306.12 450.14 306.68 450.64 306.76 451.14 304.96 451.64 306.79 452.14 306.47 452.63 306.5 453.13 306.74 453.63 306.78 454.13 306.19 454.63 306.67 455.12 306.61 455.62 306.76 456.12 306.79 456.62 306.35 457.11 306.66 457.61 306.72 458.11 306.47 458.61 305.98 459.11 306.31 459.6 306.22 460.1 306.38 460.6 306.3 461.1 305.86 461.6 306.49 462.09 305.78 462.59 306.19 463.09 305.53 463.59 305.46 464.09 304.75 464.58 302.81 465.08 303.89 465.58 305 466.08 305.21 466.58 305.06 467.07 305.41 467.57 306.26 468.07 305.71 468.57 304.68 469.06 304.73 469.56 304.35 470.06 304.69 470.56 305.69 471.06 305.82 471.55 305.77 472.05 306.68 472.55 306.2 473.05 306.11 473.55 306.81 474.04 306.71 474.54 306.18 475.04 306.08 475.54 306.74 476.04 306.67 476.53 306.35 477.03 306.42 477.53 306.63 478.03 306.61 478.53 306.11 479.02 306.84 479.52 306.4 480.02 306.62 480.52 306.4 481.01 305.88 481.51 306.77 482.01 306.75 482.51 306.67 483.01 305.13 483.5 306.69 484 305.8 484.5 303.51 485 302.62 485.5 304.6 485.99 305 486.49 306.5 486.99 306.08 487.49 306.38 487.99 306.06 488.48 306.31 488.98 306.68 489.48 305.45 489.98 306.53 490.48 306.61 490.97 306.67 491.47 306.31 491.97 306.51 492.47 306.67 492.96 306.77 493.46 306.76 493.96 306.29 494.46 306.73 494.96 306.16 495.45 304.44 495.95 302.72 496.45 305.32 496.95 306.26 497.45 306.48 497.94 306.42 498.44 306.51 498.94 306.3 499.44 306.08 499.94 305.9 500.43 305.18 500.93 305.9 501.43 305.83 501.93 306.15 502.43 306.36 502.92 306.22 503.42 306.78 503.92 306.74 504.42 306.72 504.92 306.82 505.41 306.2 505.91 305.89 506.41 306.4 506.91 306.63 507.4 306.83 507.9 306.64 508.4 306.63 508.9 306.39 509.4 306.45 509.89 306.59 510.39 306.46 510.89 306.61 511.39 306.14 511.89 306.58 512.38 306.75 512.88 306.65 513.38 306.6 513.88 306.52 514.38 306.42 514.87 306.5 515.37 306.59 515.87 306.65 516.37 306.69 516.87 306.43 517.36 306.7 517.86 305.94 518.36 306.56 518.86 306.82 519.35 306.75 519.85 306.77 520.35 306.77 520.85 306.49 521.35 306.64 521.84 306.52 522.34 306.41 522.84 306.6 523.34 306.62 523.84 306.69 524.33 306.64 524.83 306.78 525.33 306.74 525.83 306.82 526.33 306.49 526.82 306.82 527.32 306.75 527.82 306.76 528.32 306.41 528.82 306.49 529.31 306.77 529.81 306.62 530.31 306.71 530.81 306.5 531.3 306.47 531.8 306.44 532.3 306.66 532.8 306.06 533.3 306.71 533.79 306.8 534.29 306.65 534.79 306.74 535.29 306.6 535.79 306.66 536.28 306.8 536.78 306.72 537.28 306.64 537.78 306.56 538.28 306.45 538.77 306.46 539.27 306.77 539.77 306.66 540.27 306.83 540.77 306.56 541.26 306.58 541.76 306.76 542.26 306.57 542.76 306.73 543.25 306.64 543.75 306.82 544.25 306.66 544.75 306.7 545.25 306.23 545.74 306.63 546.24 306.6 546.74 306.76 547.24 306.82 547.74 306.67 548.23 306.81 548.73 306.7 549.23 306.74 549.73 306.72 550.23 306.7 550.72 304.13 551.22 302.07 L551.22 307.29Z"/>
<path d="M399.36 316.25 L399.36 315.77 399.85 315.7 400.35 315.46 400.85 315.57 401.35 315.66 401.85 315.61 402.34 315.8 402.84 315.52 403.34 315.41 403.84 315.49 404.34 315.65 404.83 315.61 405.33 315.71 405.83 315.18 406.33 313.06 406.82 309.32 407.32 308.45 407.82 311.45 408.32 314.83 408.82 315.39 409.31 315.63 409.81 315.35 410.31 315.13 410.81 315.5 411.31 315.36 411.8 315.19 412.3 314.39 412.8 314.9 413.3 314.72 413.8 314.51 414.29 314.73 414.79 314.59 415.29 314.7 415.79 314.56 416.29 314.93 416.78 314.85 417.28 314.99 417.78 315.26 418.28 315.36 418.77 315.48 419.27 315.55 419.77 315.59 420.27 315.69 420.77 315.45 421.26 315.25 421.76 315.51 422.26 315.74 422.76 315.7 423.26 315.56 423.75 315.55 424.25 315.5 424.75 315.49 425.25 315.7 425.75 315.73 426.24 315.41 426.74 315.52 427.24 315.6 427.74 315.35 428.24 315.11 428.73 314.55 429.23 314.62 429.73 314.77 430.23 315.55 430.72 315.1 431.22 315.76 431.72 315.6 432.22 315.76 432.72 315.1 433.21 315.76 433.71 315.65 434.21 315.13 434.71 315.62 435.21 315.38 435.7 315.76 436.2 315.37 436.7 315.72 437.2 315.57 437.7 315.73 438.19 315.69 438.69 315.71 439.19 315.44 439.69 315.73 440.19 315.79 440.68 315.47 441.18 315.21 441.68 315.76 442.18 315.73 442.68 315.68 443.17 315.26 443.67 314.91 444.17 314.32 444.67 314.46 445.16 314.95 445.66 315.46 446.16 314.89 446.66 315.48 447.16 315.76 447.65 315.5 448.15 315.67 448.65 315.23 449.15 315.25 449.65 315.78 450.14 315.61 450.64 315.58 451.14 315.52 451.64 315.76 452.14 315.54 452.63 315.55 453.13 315.46 453.63 315.73 454.13 315.59 454.63 314.94 455.12 315.57 455.62 315.61 456.12 315.56 456.62 314.88 457.11 315.55 457.61 315.04 458.11 315.61 458.61 315.45 459.11 315.32 459.6 314.97 460.1 315.46 460.6 315.09 461.1 315.18 461.6 314.81 462.09 314.16 462.59 312.72 463.09 310.79 463.59 312.07 464.09 313.38 464.58 314.01 465.08 314.1 465.58 314.58 466.08 313.72 466.58 312.85 467.07 311.87 467.57 312.86 468.07 312.47 468.57 313.26 469.06 314.58 469.56 314.77 470.06 313.96 470.56 313.97 471.06 313.76 471.55 314.44 472.05 315.11 472.55 315.58 473.05 314.51 473.55 315.66 474.04 315.73 474.54 315.67 475.04 315.57 475.54 315.44 476.04 315.71 476.53 315.1 477.03 314.77 477.53 315.68 478.03 315.61 478.53 315.17 479.02 315.55 479.52 314.95 480.02 315.03 480.52 315.37 481.01 315.54 481.51 315.51 482.01 315.38 482.51 315.28 483.01 315.46 483.5 315.12 484 314.43 484.5 312 485 310.16 485.5 312.62 485.99 314.26 486.49 315.33 486.99 315.45 487.49 315.29 487.99 314.9 488.48 315.79 488.98 314.64 489.48 315.45 489.98 314.81 490.48 315.53 490.97 315.54 491.47 315.43 491.97 315.56 492.47 315.6 492.96 315.72 493.46 314.67 493.96 315.75 494.46 315.42 494.96 313.56 495.45 310.59 495.95 309.53 496.45 312.27 496.95 314.79 497.45 315.3 497.94 315.44 498.44 314.86 498.94 314.3 499.44 314.25 499.94 313.78 500.43 313.37 500.93 313.51 501.43 314.22 501.93 314.63 502.43 314.72 502.92 314.92 503.42 315.13 503.92 315.72 504.42 315.44 504.92 315.49 505.41 315.39 505.91 314.62 506.41 314.37 506.91 314.1 507.4 314 507.9 315.09 508.4 315.55 508.9 314.87 509.4 315.58 509.89 315.72 510.39 315.37 510.89 315.43 511.39 315.74 511.89 315.65 512.38 315.63 512.88 315.62 513.38 315.44 513.88 315.76 514.38 315.33 514.87 315.67 515.37 315.56 515.87 315.75 516.37 315.66 516.87 315.71 517.36 315.75 517.86 315.5 518.36 315.46 518.86 315.35 519.35 315.75 519.85 315.73 520.35 315.35 520.85 314.77 521.35 315.7 521.84 315.76 522.34 315.36 522.84 315.49 523.34 315.71 523.84 315.78 524.33 315.69 524.83 315.54 525.33 315.67 525.83 315.63 526.33 315.69 526.82 315.58 527.32 315.57 527.82 315.36 528.32 315.7 528.82 315.66 529.31 315.37 529.81 315.68 530.31 315.6 530.81 315.6 531.3 315.66 531.8 315.77 532.3 315.56 532.8 315.7 533.3 315.64 533.79 315.51 534.29 315.48 534.79 315.75 535.29 315.35 535.79 315.59 536.28 315.29 536.78 315.54 537.28 315.72 537.78 315.76 538.28 315.68 538.77 315.52 539.27 315.79 539.77 315.77 540.27 315.8 540.77 315.48 541.26 315.72 541.76 315.62 542.26 315.76 542.76 315.62 543.25 315.45 543.75 315.79 544.25 315.41 544.75 315.66 545.25 315.73 545.74 315.54 546.24 315.71 546.74 315.74 547.24 315.6 547.74 315.71 548.23 315.65 548.73 315.37 549.23 315.63 549.73 315.74 550.23 315.58 550.72 315.73 551.22 315.69 L551.22 316.25Z"/>
<path d="M399.36 325.21 L399.36 324.49 399.85 324.5 400.35 324.62 400.85 324.74 401.35 324.71 401.85 324.66 402.34 324.65 402.84 324.59 403.34 324.47 403.84 324.71 404.34 324.74 404.83 324.22 405.33 324.66 405.83 323.73 406.33 322.3 406.82 320.15 407.32 319.88 407.82 321.87 408.32 323.55 408.82 324.58 409.31 324.5 409.81 324.72 410.31 324.58 410.81 324.49 411.31 324.46 411.8 324.72 412.3 324.56 412.8 324.66 413.3 324.43 413.8 324.58 414.29 324.47 414.79 324.73 415.29 324.19 415.79 324.74 416.29 324.35 416.78 324.6 417.28 324.52 417.78 324.67 418.28 324.38 418.77 324.23 419.27 324.52 419.77 324.57 420.27 324.53 420.77 324.57 421.26 324.58 421.76 324.41 422.26 324.36 422.76 324.51 423.26 324.74 423.75 324.71 424.25 324.18 424.75 324.03 425.25 324.58 425.75 324.67 426.24 324.27 426.74 324.68 427.24 324.46 427.74 324.62 428.24 324.68 428.73 324.75 429.23 324.64 429.73 324.6 430.23 324.71 430.72 324.09 431.22 324.55 431.72 324.71 432.22 324.03 432.72 324.73 433.21 324.07 433.71 323.43 434.21 324.54 434.71 324.42 435.21 324.75 435.7 324.36 436.2 324.15 436.7 324.64 437.2 324.69 437.7 324.69 438.19 324.55 438.69 324.59 439.19 324.71 439.69 324.74 440.19 324.39 440.68 324.09 441.18 324.59 441.68 324.63 442.18 324.27 442.68 324.62 443.17 324.62 443.67 324.72 444.17 324.55 444.67 324.54 445.16 324.51 445.66 324.5 446.16 324.36 446.66 324.52 447.16 324.45 447.65 324.46 448.15 324.22 448.65 324.38 449.15 324.64 449.65 324.73 450.14 324.3 450.64 324.5 451.14 324.65 451.64 324.71 452.14 324.19 452.63 324.7 453.13 324.34 453.63 323.79 454.13 324.46 454.63 324.7 455.12 324.66 455.62 324.51 456.12 324.34 456.62 324.12 457.11 324.31 457.61 324.6 458.11 324.64 458.61 324.52 459.11 324.14 459.6 324.54 460.1 324.21 460.6 324.07 461.1 324.16 461.6 324.04 462.09 323.11 462.59 323.92 463.09 323.83 463.59 323.06 464.09 322.17 464.58 321.86 465.08 322.08 465.58 322.93 466.08 323.24 466.58 322.95 467.07 323.16 467.57 323.93 468.07 323.53 468.57 323.51 469.06 322.78 469.56 321.57 470.06 323.57 470.56 324.11 471.06 324.29 471.55 324.05 472.05 324.19 472.55 324.52 473.05 323.93 473.55 323.87 474.04 324.66 474.54 324.53 475.04 324.72 475.54 324.68 476.04 324.55 476.53 324.2 477.03 324.22 477.53 323.91 478.03 324.71 478.53 324.3 479.02 323.66 479.52 324.35 480.02 324.75 480.52 324.43 481.01 324.21 481.51 323.54 482.01 324.6 482.51 324.05 483.01 324.05 483.5 323.74 484 323.43 484.5 320.41 485 318.29 485.5 319.99 485.99 324.09 486.49 324.57 486.99 324.13 487.49 324.2 487.99 324.64 488.48 324.74 488.98 324.7 489.48 324.29 489.98 324.4 490.48 322.1 490.97 318.64 491.47 319.82 491.97 323.08 492.47 324.22 492.96 324.51 493.46 324.24 493.96 324.54 494.46 324.52 494.96 324.26 495.45 324.29 495.95 322.24 496.45 318.87 496.95 319.73 497.45 322.84 497.94 323.67 498.44 324.35 498.94 324.37 499.44 324.75 499.94 324.4 500.43 324.38 500.93 323.64 501.43 321.12 501.93 317.93 502.43 319.06 502.92 322.51 503.42 324.22 503.92 324.72 504.42 324.56 504.92 324.2 505.41 324.21 505.91 324.58 506.41 324.49 506.91 324.2 507.4 323.59 507.9 323.34 508.4 323.27 508.9 323.56 509.4 323.72 509.89 324.09 510.39 324.6 510.89 324.61 511.39 324.46 511.89 324.52 512.38 324.59 512.88 324.45 513.38 324.7 513.88 324.58 514.38 324.69 514.87 324.6 515.37 324.7 515.87 324.65 516.37 324.67 516.87 324.67 517.36 324.74 517.86 324.57 518.36 324.3 518.86 324.68 519.35 324.44 519.85 324.68 520.35 324.75 520.85 324.75 521.35 324.76 521.84 324.63 522.34 324.55 522.84 324.69 523.34 324.53 523.84 324.59 524.33 324.52 524.83 324.7 525.33 324.74 525.83 324.37 526.33 324.65 526.82 324.71 527.32 324.55 527.82 324.58 528.32 324.73 528.82 324.67 529.31 324.75 529.81 324.45 530.31 324.61 530.81 324.58 531.3 324.59 531.8 324.76 532.3 324.76 532.8 324.66 533.3 324.66 533.79 324.76 534.29 324.65 534.79 324.35 535.29 324.75 535.79 324.63 536.28 324.52 536.78 324.47 537.28 324.72 537.78 324.57 538.28 324.37 538.77 324.67 539.27 324.73 539.77 324.33 540.27 324.57 540.77 324.41 541.26 324.73 541.76 324.71 542.26 324.66 542.76 324.54 543.25 324.65 543.75 324.55 544.25 324.47 544.75 324.74 545.25 324.55 545.74 324.71 546.24 324.66 546.74 324.69 547.24 324.66 547.74 324.4 548.23 324.47 548.73 324.69 549.23 324.66 549.73 324.71 550.23 324.12 550.72 324.63 551.22 324.54 L551.22 325.21Z"/>
<path d="M399.36 334.17 L399.36 333.56 399.85 333.63 400.35 333.56 400.85 333.6 401.35 333.7 401.85 333.54 402.34 333.39 402.84 333.61 403.34 333.48 403.84 333.62 404.34 333.47 404.83 333.57 405.33 333.16 405.83 332.3 406.33 330.11 406.82 327.15 407.32 326.52 407.82 329.01 408.32 331.59 408.82 332.59 409.31 332.7 409.81 332.71 410.31 332.5 410.81 332.47 411.31 332.19 411.8 331.64 412.3 332.2 412.8 332.17 413.3 332.03 413.8 332.19 414.29 332.11 414.79 332.31 415.29 332.01 415.79 332.41 416.29 332.48 416.78 332.56 417.28 332.81 417.78 332.97 418.28 332.92 418.77 333.13 419.27 333.27 419.77 333.12 420.27 332.84 420.77 333.3 421.26 333.24 421.76 332.62 422.26 333.56 422.76 333.41 423.26 333.33 423.75 333.52 424.25 333.4 424.75 333.26 425.25 333.6 425.75 333.69 426.24 333.53 426.74 333.68 427.24 332.58 427.74 333.45 428.24 333.66 428.73 333.31 429.23 333.63 429.73 333.6 430.23 333.51 430.72 333.48 431.22 333.5 431.72 333.36 432.22 333.57 432.72 333.2 433.21 333.33 433.71 333.65 434.21 333.7 434.71 333.13 435.21 333.46 435.7 333.66 436.2 333.72 436.7 333.65 437.2 333.18 437.7 333.69 438.19 333.21 438.69 333.21 439.19 333.58 439.69 333.23 440.19 333.5 440.68 333.62 441.18 333.67 441.68 333.44 442.18 333.64 442.68 333.54 443.17 333.38 443.67 333.66 444.17 333.69 444.67 333.55 445.16 332.93 445.66 333.39 446.16 333.54 446.66 333.08 447.16 333.37 447.65 332.84 448.15 332.97 448.65 333.5 449.15 333.7 449.65 333.69 450.14 332.92 450.64 333.29 451.14 333.22 451.64 333.67 452.14 333.48 452.63 332.84 453.13 333.22 453.63 333.07 454.13 333.68 454.63 333.37 455.12 333.46 455.62 333.32 456.12 333.34 456.62 333.56 457.11 333.61 457.61 333.51 458.11 333.21 458.61 333.07 459.11 332.47 459.6 331.28 460.1 331.32 460.6 330.36 461.1 331.62 461.6 332.59 462.09 331.9 462.59 332.86 463.09 330.92 463.59 329.9 464.09 329.56 464.58 330.86 465.08 332.17 465.58 332.34 466.08 332.62 466.58 332.29 467.07 331.11 467.57 330.58 468.07 330.24 468.57 331.6 469.06 332.23 469.56 332.88 470.06 332.91 470.56 333.05 471.06 332.84 471.55 332.42 472.05 332.27 472.55 332.25 473.05 332.12 473.55 333.08 474.04 333.29 474.54 333.34 475.04 333.36 475.54 333.48 476.04 332.82 476.53 333.69 477.03 333.29 477.53 333.39 478.03 333.52 478.53 332.66 479.02 333.65 479.52 333.58 480.02 332.68 480.52 333.09 481.01 333.27 481.51 333.41 482.01 333.23 482.51 333.4 483.01 333.44 483.5 333.12 484 332 484.5 328.97 485 327.38 485.5 329.72 485.99 332.12 486.49 333.36 486.99 333.63 487.49 333.45 487.99 333.22 488.48 333.42 488.98 333.65 489.48 333.29 489.98 333.53 490.48 333.37 490.97 333.66 491.47 333.66 491.97 333.65 492.47 333.24 492.96 331.87 493.46 329.94 493.96 326.8 494.46 326.42 494.96 329.01 495.45 331.67 495.95 332.86 496.45 332.42 496.95 332.32 497.45 332.15 497.94 331.4 498.44 331 498.94 330.99 499.44 331.37 499.94 331.77 500.43 332.03 500.93 332.7 501.43 333.07 501.93 333.24 502.43 333.62 502.92 333.13 503.42 332.68 503.92 331.24 504.42 330.32 504.92 330.98 505.41 332.8 505.91 333.49 506.41 333.39 506.91 333.25 507.4 333.59 507.9 333.2 508.4 333.07 508.9 332.35 509.4 331.82 509.89 331.54 510.39 331.92 510.89 332.69 511.39 333.4 511.89 333.42 512.38 333.46 512.88 333.66 513.38 333.43 513.88 333.47 514.38 333.63 514.87 333.55 515.37 333.66 515.87 333.11 516.37 333.53 516.87 333.68 517.36 333.7 517.86 332.87 518.36 333.45 518.86 333.58 519.35 333.52 519.85 333.29 520.35 333.52 520.85 333.18 521.35 333.51 521.84 333.09 522.34 333.43 522.84 333.14 523.34 333.36 523.84 332.97 524.33 331.97 524.83 329.83 525.33 328.66 525.83 329.74 526.33 331.17 526.82 332.26 527.32 331.96 527.82 332.08 528.32 332.24 528.82 332.16 529.31 332.14 529.81 332.15 530.31 332.19 530.81 331.91 531.3 331.92 531.8 332.05 532.3 332.39 532.8 332.31 533.3 332.67 533.79 332.7 534.29 332.8 534.79 332.99 535.29 333.08 535.79 332.65 536.28 333.03 536.78 333.42 537.28 333.25 537.78 333.52 538.28 333.47 538.77 333.29 539.27 333.64 539.77 333.41 540.27 333.6 540.77 333.39 541.26 333.55 541.76 333.39 542.26 333.68 542.76 333.68 543.25 333.48 543.75 333.61 544.25 333.59 544.75 333.66 545.25 333.71 545.74 333.71 546.24 333.48 546.74 333.53 547.24 333.63 547.74 333.7 548.23 333.33 548.73 333.32 549.23 333.68 549.73 333.48 550.23 333.39 550.72 333.53 551.22 333.39 L551.22 334.17Z"/>
<path d="M399.36 343.13 L399.36 342.42 399.85 342.35 400.35 342.33 400.85 342.61 401.35 342.49 401.85 342.6 402.34 342.54 402.84 342.24 403.34 342.68 403.84 342.63 404.34 342.63 404.83 342.4 405.33 342.51 405.83 341.73 406.33 339.66 406.82 337.2 407.32 336.89 407.82 339.21 408.32 341.5 408.82 341.7 409.31 342.37 409.81 342.61 410.31 342.61 410.81 342.59 411.31 342.29 411.8 342.67 412.3 342.62 412.8 342.64 413.3 342.48 413.8 342.43 414.29 342.52 414.79 342.65 415.29 342.34 415.79 342.63 416.29 342.28 416.78 342.64 417.28 342.65 417.78 342.55 418.28 342.48 418.77 341.79 419.27 342.59 419.77 342.65 420.27 342.51 420.77 342.17 421.26 342.42 421.76 342.63 422.26 342.48 422.76 342.59 423.26 342.58 423.75 342.23 424.25 342.47 424.75 342.53 425.25 342.55 425.75 342.51 426.24 342.48 426.74 342.61 427.24 342.62 427.74 342.64 428.24 342.29 428.73 342.64 429.23 342.34 429.73 342.04 430.23 342.62 430.72 341.43 431.22 342.39 431.72 342.46 432.22 342.4 432.72 342.28 433.21 342.09 433.71 342.12 434.21 342.66 434.71 341.83 435.21 342.44 435.7 342.16 436.2 342.41 436.7 342.48 437.2 342.44 437.7 342.48 438.19 342.16 438.69 342.43 439.19 342.66 439.69 342.35 440.19 342.37 440.68 342.6 441.18 341.5 441.68 342.39 442.18 342.16 442.68 342.57 443.17 342.26 443.67 342.04 444.17 341.13 444.67 341.25 445.16 342.23 445.66 342.24 446.16 342.63 446.66 342.56 447.16 342.03 447.65 342.55 448.15 342.56 448.65 342.49 449.15 342.43 449.65 342.1 450.14 342.68 450.64 342.6 451.14 342.49 451.64 341.24 452.14 340.74 452.63 341 453.13 341.54 453.63 342.35 454.13 342.2 454.63 342.11 455.12 342.44 455.62 342.24 456.12 341.93 456.62 341.8 457.11 342.38 457.61 341.58 458.11 341.06 458.61 340.62 459.11 341.46 459.6 341.32 460.1 342.46 460.6 342.07 461.1 341.76 461.6 341.96 462.09 341.74 462.59 340.91 463.09 339.75 463.59 340.58 464.09 341.47 464.58 341.67 465.08 341.57 465.58 340.43 466.08 339.5 466.58 339.92 467.07 341.07 467.57 341.19 468.07 342.12 468.57 342.14 469.06 341.93 469.56 341.89 470.06 342.34 470.56 342.07 471.06 342.41 471.55 342.28 472.05 342.54 472.55 342.05 473.05 342.14 473.55 341.58 474.04 342.35 474.54 342.65 475.04 342.56 475.54 342.57 476.04 342.64 476.53 342.52 477.03 342.24 477.53 342.1 478.03 342.65 478.53 342.38 479.02 342.2 479.52 342.68 480.02 342.53 480.52 342.65 481.01 342.44 481.51 342.61 482.01 342.35 482.51 342.06 483.01 341.74 483.5 342.48 484 341.51 484.5 339.21 485 337.52 485.5 339.93 485.99 342.15 486.49 342.4 486.99 342.65 487.49 342.53 487.99 342.16 488.48 341.59 488.98 341.5 489.48 337.98 489.98 335.66 490.48 338.8 490.97 341.81 491.47 342.56 491.97 342.21 492.47 342.28 492.96 342.56 493.46 342.15 493.96 342.66 494.46 342.35 494.96 341.81 495.45 339.28 495.95 338.66 496.45 340.35 496.95 341.92 497.45 342.63 497.94 342.48 498.44 342.17 498.94 342.43 499.44 342.63 499.94 342.26 500.43 342.2 500.93 342.67 501.43 342.19 501.93 342.61 502.43 342.52 502.92 342.02 503.42 342.35 503.92 342.44 504.42 342.47 504.92 342.4 505.41 341.09 505.91 339.09 506.41 340.81 506.91 342.2 507.4 341.6 507.9 342.51 508.4 342.11 508.9 340.73 509.4 341.09 509.89 341.12 510.39 342.59 510.89 342.51 511.39 341.99 511.89 342.67 512.38 342.5 512.88 342.25 513.38 342.03 513.88 342.52 514.38 342.34 514.87 342.19 515.37 342.67 515.87 342.66 516.37 342.28 516.87 342.34 517.36 342.44 517.86 342.15 518.36 341.62 518.86 342.62 519.35 342.47 519.85 342.4 520.35 342.64 520.85 342.55 521.35 342.67 521.84 342.43 522.34 342.54 522.84 342.48 523.34 342.49 523.84 342.5 524.33 342.51 524.83 342.55 525.33 342.62 525.83 342.63 526.33 342.56 526.82 342.61 527.32 342.51 527.82 342.52 528.32 342.35 528.82 342.33 529.31 342.61 529.81 342.17 530.31 342.38 530.81 342.62 531.3 342.6 531.8 342.57 532.3 342.58 532.8 342.55 533.3 342.67 533.79 342.61 534.29 342.13 534.79 342.55 535.29 342.31 535.79 342.61 536.28 342.62 536.78 342.56 537.28 342.53 537.78 342.53 538.28 342.5 538.77 342.62 539.27 342.64 539.77 342.55 540.27 342.54 540.77 342.54 541.26 342.09 541.76 342.6 542.26 342.42 542.76 342.66 543.25 342.51 543.75 342.54 544.25 342.18 544.75 342.38 545.25 342.49 545.74 342.54 546.24 342.66 546.74 342.66 547.24 342.63 547.74 342.25 548.23 342.4 548.73 342.6 549.23 342.49 549.73 342.58 550.23 342.61 550.72 342.66 551.22 342.6 L551.22 343.13Z"/>
<path d="M399.36 352.09 L399.36 351.63 399.85 351.59 400.35 351.62 400.85 351.2 401.35 351.63 401.85 351.47 402.34 351.39 402.84 351.64 403.34 351.56 403.84 351.61 404.34 351.55 404.83 351.21 405.33 351.44 405.83 350.7 406.33 349.35 406.82 347.81 407.32 347.72 407.82 348.93 408.32 350.43 408.82 351.29 409.31 351.34 409.81 351.37 410.31 351.51 410.81 351.56 411.31 351.58 411.8 351.45 412.3 351.62 412.8 351.33 413.3 351.14 413.8 351.62 414.29 351.56 414.79 351.49 415.29 351.47 415.79 351.61 416.29 351.52 416.78 351.53 417.28 351.63 417.78 351.28 418.28 351.47 418.77 351.5 419.27 351.48 419.77 351.62 420.27 351.52 420.77 351.18 421.26 351.56 421.76 351.47 422.26 351.44 422.76 351.38 423.26 351.51 423.75 351.6 424.25 351.05 424.75 351.63 425.25 351.14 425.75 350.88 426.24 351.64 426.74 351.35 427.24 351.4 427.74 351.6 428.24 351.44 428.73 351.41 429.23 351.11 429.73 351.49 430.23 351.58 430.72 351.5 431.22 351.4 431.72 351.33 432.22 351.59 432.72 351.27 433.21 351.21 433.71 351.51 434.21 351.22 434.71 351.49 435.21 351.3 435.7 351.39 436.2 351.34 436.7 351.34 437.2 351.59 437.7 351.53 438.19 351.09 438.69 351.4 439.19 351.44 439.69 351.56 440.19 351.57 440.68 351.28 441.18 351.48 441.68 351.1 442.18 351.47 442.68 351.55 443.17 351.41 443.67 351.23 444.17 351.34 444.67 351.52 445.16 351.57 445.66 351.57 446.16 351.43 446.66 351.49 447.16 351.32 447.65 351.14 448.15 351.58 448.65 351.18 449.15 351.23 449.65 351.28 450.14 351.57 450.64 350.71 451.14 351.12 451.64 351.15 452.14 351.32 452.63 351.46 453.13 351.61 453.63 351.2 454.13 351.57 454.63 351.38 455.12 351.62 455.62 351.38 456.12 351.4 456.62 351.31 457.11 351.2 457.61 350.24 458.11 350.26 458.61 350.15 459.11 349.98 459.6 350.57 460.1 350.89 460.6 350.5 461.1 348.94 461.6 348.82 462.09 349.21 462.59 350.27 463.09 349.68 463.59 349.53 464.09 349.75 464.58 348.6 465.08 347.25 465.58 344.96 466.08 347.86 466.58 349.08 467.07 349.77 467.57 350.29 468.07 350.06 468.57 349.47 469.06 348.89 469.56 348.98 470.06 349.45 470.56 350.4 471.06 350.88 471.55 351.28 472.05 351.08 472.55 351.12 473.05 351.51 473.55 351.21 474.04 351.06 474.54 350.9 475.04 351.4 475.54 351.07 476.04 351.04 476.53 350.76 477.03 350.9 477.53 351.43 478.03 351.38 478.53 351.34 479.02 351.59 479.52 350.19 480.02 349.65 480.52 351.3 481.01 350.39 481.51 350.87 482.01 351.09 482.51 351.26 483.01 351.15 483.5 350.7 484 349.35 484.5 345.8 485 344.86 485.5 346.75 485.99 348.88 486.49 350.39 486.99 350.32 487.49 349.88 487.99 349.38 488.48 350.19 488.98 350.12 489.48 349.58 489.98 350.14 490.48 349.53 490.97 349.94 491.47 349.96 491.97 349.76 492.47 350.03 492.96 350.14 493.46 350.76 493.96 350.78 494.46 349.83 494.96 350.95 495.45 350.74 495.95 350.99 496.45 351.09 496.95 351.14 497.45 351.3 497.94 351.14 498.44 351.07 498.94 351.08 499.44 351.48 499.94 351.42 500.43 351.04 500.93 350.98 501.43 351.27 501.93 351.33 502.43 350.96 502.92 351.52 503.42 351.21 503.92 351.37 504.42 351.34 504.92 351.14 505.41 351.52 505.91 351.25 506.41 351.2 506.91 351.52 507.4 351.55 507.9 351.11 508.4 351.29 508.9 351.53 509.4 351.26 509.89 351.54 510.39 351.62 510.89 351.63 511.39 351.52 511.89 351.39 512.38 351.32 512.88 351.54 513.38 351.45 513.88 351.59 514.38 351.61 514.87 351.63 515.37 351.36 515.87 351.4 516.37 351.4 516.87 351.41 517.36 351.53 517.86 351.61 518.36 351.49 518.86 351.52 519.35 351.64 519.85 351.36 520.35 351.44 520.85 351.64 521.35 351.57 521.84 351.57 522.34 351.52 522.84 351.27 523.34 351.51 523.84 351.42 524.33 351.31 524.83 351.06 525.33 351.48 525.83 351.54 526.33 351.51 526.82 351.44 527.32 351.56 527.82 351.43 528.32 351.63 528.82 351.31 529.31 351.48 529.81 351.54 530.31 351.48 530.81 351.64 531.3 351.48 531.8 351.55 532.3 351.5 532.8 351.53 533.3 351.38 533.79 351.49 534.29 351.36 534.79 351.38 535.29 351.43 535.79 351.53 536.28 351.35 536.78 351.58 537.28 351.49 537.78 351.46 538.28 351.45 538.77 351.64 539.27 351.23 539.77 351.59 540.27 351.34 540.77 351.17 541.26 351.62 541.76 351.53 542.26 351.57 542.76 351.27 543.25 351.49 543.75 351.15 544.25 351.55 544.75 351.37 545.25 351.51 545.74 351.42 546.24 351.63 546.74 351.19 547.24 351.56 547.74 351.54 548.23 351.12 548.73 351.53 549.23 351.24 549.73 351.02 550.23 350.3 550.72 349.76 551.22 349.58 L551.22 352.09Z"/>
<path d="M399.36 361.05 L399.36 360.6 399.85 360.53 400.35 360.53 400.85 360.59 401.35 360.5 401.85 360.25 402.34 360.54 402.84 360.36 403.34 360.33 403.84 360.38 404.34 359.7 404.83 360.52 405.33 360.32 405.83 359.56 406.33 358.3 406.82 356.02 407.32 355.52 407.82 357.67 408.32 359.43 408.82 360.32 409.31 360.49 409.81 360.54 410.31 360.53 410.81 360.45 411.31 360.26 411.8 360.51 412.3 360.45 412.8 360.41 413.3 360.48 413.8 360.48 414.29 360.56 414.79 360.56 415.29 360.55 415.79 360.59 416.29 360.4 416.78 360.4 417.28 360.51 417.78 360.56 418.28 360.49 418.77 360.43 419.27 360.48 419.77 360.53 420.27 360.53 420.77 360.58 421.26 360.48 421.76 360.36 422.26 360.37 422.76 360.51 423.26 360.57 423.75 360.45 424.25 360.5 424.75 360.41 425.25 360.47 425.75 360.11 426.24 360.6 426.74 360.44 427.24 360.59 427.74 360.55 428.24 359.82 428.73 360.3 429.23 360.4 429.73 360.17 430.23 360.38 430.72 360.35 431.22 360.44 431.72 360.15 432.22 360.23 432.72 360.58 433.21 360.34 433.71 360.17 434.21 360.52 434.71 360.11 435.21 360.55 435.7 360.55 436.2 360.55 436.7 360.37 437.2 359.97 437.7 360.6 438.19 360.47 438.69 360.46 439.19 360.23 439.69 359.75 440.19 360.26 440.68 360.5 441.18 360.52 441.68 360.49 442.18 360.05 442.68 360.48 443.17 359.91 443.67 360.56 444.17 360.39 444.67 360.37 445.16 360.3 445.66 360.44 446.16 359.56 446.66 360.12 447.16 360.01 447.65 360.4 448.15 360.44 448.65 360.21 449.15 360.5 449.65 359.42 450.14 360.31 450.64 360.4 451.14 360.25 451.64 360.11 452.14 360.55 452.63 360.19 453.13 360.55 453.63 360.34 454.13 360.6 454.63 359.53 455.12 360.16 455.62 360.34 456.12 360.06 456.62 360.49 457.11 359.68 457.61 360 458.11 359.75 458.61 359.71 459.11 360.37 459.6 359.81 460.1 360.34 460.6 360.26 461.1 360.13 461.6 359.48 462.09 359.83 462.59 359.63 463.09 359.46 463.59 357.4 464.09 357.14 464.58 356.74 465.08 357.01 465.58 357.84 466.08 359.01 466.58 359.54 467.07 359.09 467.57 358.88 468.07 359.02 468.57 358.97 469.06 357.53 469.56 358.61 470.06 358.32 470.56 358 471.06 360.01 471.55 360.07 472.05 360.5 472.55 360 473.05 360.27 473.55 360.45 474.04 360.06 474.54 360.46 475.04 360.54 475.54 360.47 476.04 359.85 476.53 360.21 477.03 360.38 477.53 360.43 478.03 360 478.53 359.79 479.02 360.15 479.52 360.06 480.02 360.48 480.52 359.72 481.01 360.27 481.51 360.53 482.01 360.46 482.51 358.33 483.01 360.42 483.5 359.92 484 358.44 484.5 355.07 485 353.17 485.5 355.31 485.99 358.7 486.49 359.66 486.99 359.41 487.49 359.22 487.99 358.84 488.48 359.04 488.98 358.78 489.48 358.88 489.98 358.89 490.48 358.56 490.97 359.07 491.47 359.44 491.97 359.58 492.47 359.68 492.96 359.6 493.46 359.8 493.96 360.05 494.46 360.35 494.96 360.43 495.45 360.47 495.95 360.37 496.45 360.49 496.95 360.57 497.45 360.36 497.94 360.09 498.44 360.26 498.94 359.95 499.44 360.24 499.94 360.22 500.43 360.55 500.93 360.6 501.43 360.23 501.93 360.29 502.43 360.07 502.92 360.26 503.42 360.49 503.92 360.41 504.42 360.23 504.92 359.75 505.41 360.43 505.91 360.52 506.41 360.42 506.91 360.33 507.4 359.87 507.9 360.52 508.4 360.08 508.9 360.15 509.4 360.29 509.89 360.49 510.39 360.47 510.89 360.29 511.39 359.49 511.89 360.56 512.38 360.34 512.88 360.47 513.38 360.43 513.88 360.59 514.38 360.23 514.87 360.39 515.37 360.35 515.87 360.32 516.37 360.42 516.87 360.46 517.36 360.54 517.86 360.38 518.36 360.53 518.86 360.1 519.35 360.17 519.85 360.45 520.35 360.29 520.85 360.37 521.35 360.13 521.84 360.45 522.34 360.58 522.84 360.51 523.34 360.4 523.84 360.43 524.33 360.55 524.83 360.46 525.33 360.11 525.83 359.99 526.33 360.34 526.82 360.02 527.32 360.47 527.82 360.45 528.32 360.56 528.82 360.49 529.31 360.49 529.81 360.59 530.31 360.25 530.81 360.32 531.3 360.39 531.8 360.48 532.3 360.48 532.8 360.54 533.3 360.52 533.79 360.36 534.29 360.55 534.79 360.29 535.29 360.53 535.79 360.46 536.28 360.44 536.78 360.57 537.28 360.47 537.78 360.4 538.28 360.34 538.77 360.44 539.27 360.57 539.77 360.53 540.27 360.44 540.77 360.39 541.26 360.46 541.76 360.42 542.26 360.12 542.76 360.59 543.25 360.34 543.75 360.48 544.25 360.3 544.75 360.36 545.25 360.5 545.74 360.25 546.24 360.32 546.74 360.56 547.24 360.51 547.74 360.55 548.23 360.13 548.73 360.39 549.23 360.33 549.73 360.18 550.23 360.43 550.72 360.59 551.22 360.59 L551.22 361.05Z"/>
<path d="M399.36 370.01 L399.36 369.45 399.85 369.28 400.35 369.47 400.85 369.55 401.35 369.56 401.85 369.3 402.34 369.3 402.84 369.37 403.34 369.45 403.84 369.33 404.34 369.46 404.83 369.47 405.33 369.25 405.83 368.67 406.33 366.79 406.82 364.14 407.32 363.8 407.82 365.49 408.32 368.22 408.82 369.26 409.31 369.35 409.81 369.35 410.31 369.51 410.81 369.55 411.31 369.39 411.8 369.22 412.3 369.5 412.8 369.45 413.3 369.43 413.8 369.32 414.29 369.47 414.79 369.34 415.29 369.38 415.79 369.53 416.29 369.37 416.78 369.54 417.28 369.42 417.78 369.48 418.28 369.18 418.77 369.35 419.27 369.48 419.77 369.4 420.27 369.35 420.77 369.5 421.26 369.56 421.76 369.52 422.26 369.43 422.76 369.06 423.26 369.3 423.75 369.53 424.25 369.45 424.75 368.96 425.25 369.45 425.75 369.22 426.24 369.38 426.74 369.41 427.24 369.26 427.74 369.43 428.24 369.51 428.73 369.04 429.23 369.28 429.73 369.09 430.23 369.38 430.72 369.34 431.22 369.4 431.72 369.5 432.22 369.27 432.72 369.33 433.21 369.41 433.71 369.2 434.21 369.51 434.71 369.2 435.21 369.46 435.7 369.06 436.2 369.18 436.7 369.49 437.2 369.15 437.7 369.22 438.19 369.24 438.69 369.39 439.19 369.24 439.69 369.45 440.19 369.19 440.68 369.06 441.18 369.1 441.68 369.31 442.18 368.9 442.68 369.15 443.17 369.28 443.67 369.4 444.17 369.32 444.67 368.97 445.16 368.97 445.66 369.44 446.16 369.36 446.66 369.3 447.16 369.05 447.65 368.97 448.15 369.15 448.65 369.09 449.15 368.76 449.65 368.25 450.14 368.69 450.64 368.85 451.14 368.48 451.64 368.48 452.14 368.17 452.63 368 453.13 366.88 453.63 367.97 454.13 368.04 454.63 366.43 455.12 367.67 455.62 368.29 456.12 368.12 456.62 368.66 457.11 368.56 457.61 369.01 458.11 368.58 458.61 368.66 459.11 368.77 459.6 368.46 460.1 367.57 460.6 366.51 461.1 366.78 461.6 367.23 462.09 367.35 462.59 367.92 463.09 367.74 463.59 367.12 464.09 365.12 464.58 363.27 465.08 363.86 465.58 365.44 466.08 367.38 466.58 367.55 467.07 366.57 467.57 363.91 468.07 364.5 468.57 366.62 469.06 368.24 469.56 368.63 470.06 368.61 470.56 369 471.06 368.67 471.55 369.03 472.05 369.26 472.55 367.48 473.05 368.77 473.55 369.44 474.04 369.46 474.54 369.41 475.04 369.51 475.54 369.48 476.04 369.27 476.53 369.02 477.03 369.07 477.53 369.43 478.03 369.35 478.53 369.3 479.02 369.19 479.52 368.44 480.02 368.12 480.52 369.03 481.01 369.55 481.51 369.55 482.01 369.38 482.51 369.11 483.01 369.34 483.5 369.34 484 367.15 484.5 366.37 485 365.45 485.5 366.51 485.99 368.55 486.49 369.05 486.99 369.45 487.49 369.47 487.99 369.24 488.48 368.77 488.98 369.1 489.48 368.93 489.98 369.55 490.48 368.98 490.97 369.36 491.47 369.19 491.97 369.56 492.47 368.14 492.96 369.03 493.46 369.22 493.96 368.98 494.46 369.52 494.96 367.71 495.45 369.2 495.95 368.86 496.45 369.42 496.95 369.05 497.45 369.5 497.94 369.51 498.44 369.52 498.94 369.35 499.44 369.39 499.94 368.96 500.43 368.87 500.93 369.1 501.43 369.19 501.93 369.34 502.43 369.13 502.92 367.77 503.42 368.71 503.92 368.83 504.42 368.63 504.92 367.58 505.41 367.95 505.91 368.18 506.41 367.96 506.91 368.14 507.4 367.57 507.9 368.27 508.4 368.37 508.9 368.43 509.4 367.8 509.89 368.9 510.39 368.47 510.89 369.22 511.39 369.11 511.89 369.38 512.38 369.34 512.88 369.27 513.38 369.47 513.88 369.14 514.38 369.25 514.87 369.45 515.37 369.38 515.87 369.34 516.37 369.36 516.87 369.54 517.36 369.33 517.86 369.43 518.36 369.35 518.86 369.17 519.35 369.45 519.85 369.25 520.35 369.53 520.85 369.17 521.35 369.34 521.84 369.52 522.34 369.04 522.84 369.28 523.34 369.43 523.84 369.48 524.33 369.13 524.83 368.95 525.33 369.24 525.83 369.22 526.33 369.55 526.82 369.39 527.32 369.25 527.82 369.34 528.32 369.18 528.82 369.52 529.31 369.21 529.81 369.49 530.31 369.31 530.81 369.39 531.3 369.3 531.8 369.35 532.3 369.47 532.8 369.28 533.3 369.55 533.79 369.44 534.29 369.36 534.79 369.37 535.29 369.48 535.79 369.1 536.28 369.3 536.78 369.32 537.28 369.07 537.78 369.53 538.28 369.47 538.77 369.35 539.27 369.24 539.77 369.39 540.27 369.12 540.77 369.33 541.26 369.45 541.76 369.55 542.26 369.4 542.76 369.39 543.25 369.39 543.75 369.36 544.25 369.55 544.75 369.48 545.25 369.5 545.74 369.37 546.24 369.52 546.74 369.38 547.24 369.48 547.74 369.51 548.23 369.45 548.73 369.44 549.23 369.37 549.73 369.53 550.23 369.33 550.72 369.54 551.22 369.48 L551.22 370.01Z"/>
<path d="M399.36 378.97 L399.36 378.36 399.85 378.23 400.35 378.17 400.85 378.45 401.35 378.46 401.85 378.38 402.34 378.46 402.84 378.51 403.34 378.44 403.84 378.46 404.34 378.5 404.83 378.47 405.33 377.95 405.83 377.67 406.33 375.44 406.82 372.88 407.32 372.72 407.82 375.02 408.32 377.35 408.82 377.97 409.31 378.17 409.81 378.36 410.31 378.36 410.81 378.43 411.31 378.4 411.8 378.21 412.3 378.13 412.8 378.29 413.3 378.23 413.8 378.38 414.29 378.39 414.79 378.29 415.29 378.35 415.79 378.17 416.29 378.49 416.78 378.26 417.28 378.47 417.78 378.44 418.28 378.46 418.77 378.27 419.27 378.45 419.77 378.37 420.27 378.32 420.77 378.28 421.26 377.64 421.76 378.46 422.26 378.35 422.76 378.43 423.26 378.52 423.75 378.38 424.25 378.52 424.75 378.46 425.25 378.2 425.75 378.4 426.24 377.99 426.74 378.42 427.24 378.41 427.74 378.35 428.24 378.32 428.73 378.08 429.23 378.43 429.73 377.83 430.23 378.48 430.72 378.34 431.22 378.09 431.72 378.14 432.22 378.11 432.72 378.46 433.21 378.21 433.71 378.49 434.21 378.28 434.71 378.48 435.21 378.35 435.7 378.22 436.2 378.29 436.7 377.94 437.2 378.18 437.7 378.36 438.19 377.93 438.69 378.45 439.19 377.72 439.69 378.48 440.19 378.18 440.68 377.76 441.18 378.44 441.68 378.47 442.18 378.26 442.68 378.37 443.17 377.91 443.67 378.36 444.17 378.26 444.67 377.79 445.16 378.51 445.66 378.41 446.16 378.51 446.66 378.12 447.16 378.06 447.65 377.53 448.15 377.79 448.65 378.46 449.15 378.36 449.65 377.92 450.14 378.15 450.64 378.37 451.14 378.28 451.64 378.04 452.14 377.91 452.63 378.12 453.13 377.15 453.63 377.63 454.13 377.57 454.63 376.64 455.12 377.23 455.62 376.46 456.12 376.91 456.62 376.95 457.11 376.79 457.61 376.87 458.11 376.53 458.61 376.27 459.11 377.12 459.6 376.49 460.1 377.35 460.6 377.6 461.1 377.16 461.6 377.38 462.09 376.37 462.59 374.67 463.09 374.9 463.59 375.27 464.09 375.8 464.58 376.81 465.08 377.19 465.58 377.37 466.08 377.16 466.58 376.45 467.07 376.17 467.57 375.74 468.07 375.35 468.57 376.4 469.06 376.91 469.56 377.29 470.06 377.89 470.56 377.58 471.06 378.02 471.55 377.97 472.05 377.88 472.55 377.69 473.05 378.28 473.55 378.39 474.04 378.33 474.54 378.49 475.04 377.16 475.54 377.9 476.04 377.81 476.53 378.37 477.03 377.96 477.53 378.39 478.03 378.4 478.53 378.39 479.02 378.38 479.52 377.57 480.02 378.22 480.52 377.69 481.01 378.11 481.51 378.2 482.01 378.43 482.51 376.87 483.01 378.44 483.5 378.23 484 376.11 484.5 373.78 485 372.43 485.5 374.54 485.99 377.41 486.49 378.28 486.99 378.07 487.49 378.2 487.99 377.07 488.48 377.65 488.98 376.89 489.48 376.32 489.98 376.51 490.48 376.92 490.97 378 491.47 378.17 491.97 378.07 492.47 378.03 492.96 378.14 493.46 378.31 493.96 378.23 494.46 377.96 494.96 378.05 495.45 377.23 495.95 378.17 496.45 378.34 496.95 378.35 497.45 378.38 497.94 378.4 498.44 378.2 498.94 378.32 499.44 377.89 499.94 378.4 500.43 377.93 500.93 378.21 501.43 378.22 501.93 378.43 502.43 378.09 502.92 377.77 503.42 378.24 503.92 378.08 504.42 378.2 504.92 377.81 505.41 377.9 505.91 378.27 506.41 377.96 506.91 378.09 507.4 378.46 507.9 378.02 508.4 378.35 508.9 378.07 509.4 378.08 509.89 378.36 510.39 378.26 510.89 378.38 511.39 378.3 511.89 378.4 512.38 378.45 512.88 378.14 513.38 378.2 513.88 378.11 514.38 378.25 514.87 378.4 515.37 378.5 515.87 378.32 516.37 378.22 516.87 378.15 517.36 378.3 517.86 378.36 518.36 378.49 518.86 378.33 519.35 378.27 519.85 378.17 520.35 378.35 520.85 378.51 521.35 378.31 521.84 377.72 522.34 378.18 522.84 378.11 523.34 378.38 523.84 378.51 524.33 378.5 524.83 378.3 525.33 378.49 525.83 378.47 526.33 377.85 526.82 378.24 527.32 378.39 527.82 378.13 528.32 378.32 528.82 378.19 529.31 378.49 529.81 378.3 530.31 378.2 530.81 378.27 531.3 378.38 531.8 378.43 532.3 378.39 532.8 378.51 533.3 378.5 533.79 377.73 534.29 378.48 534.79 378.32 535.29 378.49 535.79 378.28 536.28 378.05 536.78 378.49 537.28 378.23 537.78 378.47 538.28 378.3 538.77 378.35 539.27 378.29 539.77 378.5 540.27 378.06 540.77 378.39 541.26 377.67 541.76 378.46 542.26 378.42 542.76 378.34 543.25 378.41 543.75 378.41 544.25 378.39 544.75 378.46 545.25 378 545.74 377.47 546.24 376.78 546.74 377.15 547.24 377.87 547.74 378.04 548.23 378.44 548.73 378.51 549.23 378.29 549.73 378.48 550.23 378.33 550.72 378.26 551.22 378.34 L551.22 378.97Z"/>
<path d="M399.36 387.93 L399.36 387.15 399.85 387.07 400.35 387.48 400.85 387.42 401.35 387.32 401.85 387.37 402.34 387.43 402.84 387.21 403.34 387.41 403.84 387.34 404.34 387.05 404.83 387.39 405.33 387.02 405.83 386.48 406.33 384.48 406.82 382.04 407.32 381.5 407.82 384.04 408.32 386.2 408.82 387.15 409.31 387.45 409.81 386.92 410.31 387.21 410.81 387.1 411.31 387.39 411.8 387.37 412.3 387.33 412.8 387.06 413.3 387.3 413.8 387.23 414.29 387.42 414.79 387.36 415.29 387.41 415.79 387.29 416.29 387.41 416.78 387.35 417.28 387.45 417.78 387.37 418.28 387.29 418.77 387.47 419.27 387.22 419.77 387.16 420.27 387.04 420.77 386.55 421.26 386.31 421.76 385.61 422.26 387.18 422.76 387.17 423.26 387.34 423.75 387.46 424.25 387.43 424.75 387.24 425.25 387.19 425.75 387.1 426.24 387.34 426.74 387.39 427.24 387.21 427.74 387.4 428.24 387.26 428.73 387.46 429.23 387.24 429.73 387.17 430.23 387.12 430.72 387.27 431.22 387.1 431.72 387.11 432.22 387.26 432.72 387.1 433.21 387.22 433.71 387.45 434.21 387.05 434.71 387.47 435.21 387.39 435.7 387.25 436.2 386.95 436.7 387.13 437.2 387.18 437.7 387.13 438.19 387.3 438.69 387.35 439.19 387.38 439.69 387.4 440.19 386.89 440.68 387.14 441.18 387.04 441.68 387.46 442.18 386.93 442.68 387.28 443.17 387.19 443.67 387.33 444.17 387.35 444.67 386.62 445.16 387.26 445.66 386.73 446.16 387.32 446.66 387.23 447.16 387.38 447.65 387.19 448.15 387.28 448.65 387.2 449.15 387.31 449.65 387.14 450.14 387.46 450.64 387.45 451.14 386.98 451.64 387.2 452.14 387.2 452.63 386.94 453.13 386.99 453.63 387.44 454.13 387.41 454.63 387.1 455.12 387.13 455.62 387.31 456.12 387.03 456.62 386.92 457.11 386.35 457.61 387.18 458.11 386.98 458.61 387.3 459.11 387.02 459.6 387.27 460.1 386.96 460.6 386.52 461.1 386.09 461.6 385.51 462.09 383.56 462.59 381.9 463.09 383.36 463.59 386.06 464.09 385.49 464.58 386.14 465.08 385.92 465.58 385.44 466.08 384.92 466.58 383.25 467.07 382.45 467.57 383.48 468.07 385.9 468.57 385.37 469.06 386.59 469.56 386.48 470.06 386.77 470.56 387.01 471.06 385.78 471.55 386.32 472.05 386.38 472.55 387.36 473.05 387.18 473.55 387.44 474.04 387.28 474.54 387.08 475.04 387.27 475.54 386.88 476.04 386.22 476.53 387.16 477.03 386.74 477.53 387.17 478.03 386.61 478.53 386.76 479.02 386.99 479.52 386.48 480.02 387.13 480.52 387.23 481.01 386.91 481.51 386.92 482.01 387.18 482.51 387.27 483.01 386.96 483.5 385.78 484 385.89 484.5 382.33 485 380.95 485.5 383.17 485.99 386.15 486.49 387.07 486.99 387.3 487.49 387.17 487.99 386.9 488.48 386.6 488.98 387.03 489.48 387.02 489.98 387.38 490.48 387.43 490.97 386.86 491.47 387.11 491.97 387.33 492.47 387.27 492.96 387.09 493.46 387.12 493.96 387.13 494.46 387.44 494.96 387.41 495.45 386.99 495.95 387.25 496.45 387.16 496.95 387.26 497.45 387.44 497.94 387.45 498.44 387.26 498.94 387.43 499.44 386.95 499.94 386.87 500.43 387.44 500.93 387.29 501.43 387.31 501.93 387.24 502.43 387.02 502.92 387.29 503.42 386.76 503.92 385 504.42 384.23 504.92 385.29 505.41 386.26 505.91 387.06 506.41 386.86 506.91 386.34 507.4 386.22 507.9 385.94 508.4 385.57 508.9 385.69 509.4 385.92 509.89 386.39 510.39 387.01 510.89 387.25 511.39 387.38 511.89 387.33 512.38 387.44 512.88 387.45 513.38 387.39 513.88 387.41 514.38 387.4 514.87 387.34 515.37 387.24 515.87 386.98 516.37 387.45 516.87 387.43 517.36 387.14 517.86 387.04 518.36 387.31 518.86 387.24 519.35 387.18 519.85 386.4 520.35 387.43 520.85 387.19 521.35 387.31 521.84 387.45 522.34 387.22 522.84 387.23 523.34 387.31 523.84 387.47 524.33 387.38 524.83 387.4 525.33 387.41 525.83 387.22 526.33 387 526.82 387.38 527.32 387.42 527.82 387.37 528.32 387.25 528.82 387.24 529.31 387.46 529.81 387.42 530.31 386.76 530.81 387.38 531.3 387.44 531.8 387.32 532.3 387.36 532.8 387.36 533.3 387.41 533.79 387.38 534.29 387.47 534.79 387.46 535.29 387.41 535.79 387.06 536.28 387.4 536.78 387.42 537.28 387.19 537.78 387.37 538.28 386.98 538.77 387.22 539.27 387.44 539.77 387.24 540.27 387.43 540.77 386.82 541.26 387.45 541.76 387.4 542.26 387.24 542.76 387.38 543.25 387.43 543.75 387.36 544.25 387.24 544.75 387.43 545.25 387.39 545.74 387.06 546.24 387.46 546.74 387.45 547.24 387.17 547.74 387.36 548.23 387.43 548.73 387.4 549.23 387.25 549.73 387.38 550.23 387.41 550.72 387.35 551.22 387.35 L551.22 387.93Z"/>
<path d="M399.36 396.89 L399.36 396.33 399.85 396.43 400.35 396.3 400.85 396.3 401.35 396.23 401.85 396.21 402.34 396.41 402.84 396.34 403.34 396.29 403.84 395.77 404.34 395.59 404.83 396.37 405.33 396.17 405.83 395.28 406.33 392.97 406.82 389.52 407.32 389.31 407.82 391.85 408.32 394.54 408.82 395.34 409.31 395.54 409.81 395.14 410.31 395.13 410.81 394.91 411.31 394.57 411.8 394.45 412.3 394.54 412.8 393.87 413.3 394.33 413.8 394.45 414.29 394.42 414.79 394.54 415.29 394.69 415.79 394.83 416.29 395.01 416.78 395.1 417.28 395.39 417.78 395.36 418.28 395.27 418.77 395.97 419.27 396 419.77 396.08 420.27 395.98 420.77 396.03 421.26 396.1 421.76 396.26 422.26 396.39 422.76 396.31 423.26 396.27 423.75 396.39 424.25 396.32 424.75 396.15 425.25 396.37 425.75 396.11 426.24 396.38 426.74 395.94 427.24 396.41 427.74 396.43 428.24 396.43 428.73 396.02 429.23 396.07 429.73 396.31 430.23 396.44 430.72 396.37 431.22 396.11 431.72 396.3 432.22 396.37 432.72 396.36 433.21 395.99 433.71 396.34 434.21 396.34 434.71 396.34 435.21 394.74 435.7 396.43 436.2 395.81 436.7 396.25 437.2 396.25 437.7 396.11 438.19 396.4 438.69 395.75 439.19 396.37 439.69 396.3 440.19 396.19 440.68 396.33 441.18 396.18 441.68 396.2 442.18 396.42 442.68 396.34 443.17 396.25 443.67 396.36 444.17 395.9 444.67 396 445.16 394.57 445.66 394.91 446.16 395.22 446.66 394.27 447.16 393.62 447.65 393.31 448.15 393.91 448.65 394.88 449.15 395.88 449.65 395.75 450.14 396.2 450.64 396.04 451.14 396.1 451.64 395.83 452.14 394.88 452.63 394.55 453.13 393.6 453.63 393.94 454.13 393.4 454.63 393.83 455.12 394.99 455.62 395.01 456.12 395.75 456.62 395.69 457.11 396.3 457.61 395.82 458.11 395.95 458.61 395.65 459.11 395.62 459.6 395.52 460.1 395.62 460.6 395.42 461.1 395.73 461.6 395.51 462.09 394.6 462.59 393.17 463.09 392.13 463.59 392.78 464.09 393.92 464.58 394.51 465.08 395.1 465.58 394.79 466.08 394.21 466.58 393.97 467.07 393.73 467.57 393.56 468.07 392.73 468.57 393.52 469.06 394.47 469.56 395.12 470.06 395.52 470.56 395.38 471.06 395.91 471.55 396.17 472.05 395.91 472.55 395.98 473.05 395.94 473.55 395.7 474.04 395.81 474.54 394.6 475.04 394.16 475.54 395.63 476.04 395.92 476.53 396.41 477.03 395.38 477.53 395.84 478.03 395.64 478.53 396.34 479.02 395.89 479.52 396.14 480.02 396.29 480.52 396.15 481.01 396.11 481.51 396.16 482.01 396.07 482.51 396.07 483.01 396.04 483.5 395.84 484 394.02 484.5 391.21 485 389.01 485.5 391.97 485.99 395.15 486.49 396.11 486.99 395.97 487.49 396.33 487.99 396.44 488.48 396.44 488.98 396.38 489.48 396.24 489.98 396.2 490.48 395.89 490.97 396.03 491.47 395.28 491.97 395.39 492.47 394.42 492.96 394.82 493.46 395.11 493.96 395.26 494.46 396.19 494.96 396.23 495.45 396.19 495.95 395.88 496.45 396.31 496.95 396.19 497.45 396.24 497.94 396.11 498.44 396.37 498.94 396.23 499.44 395.18 499.94 396.26 500.43 396.26 500.93 395.75 501.43 395.53 501.93 394.1 502.43 394.91 502.92 395.91 503.42 396.03 503.92 395.69 504.42 396.42 504.92 395.83 505.41 396.23 505.91 395.91 506.41 396.19 506.91 395.78 507.4 396.2 507.9 396.14 508.4 396.17 508.9 396.22 509.4 396.24 509.89 396.22 510.39 396.07 510.89 396.44 511.39 396.44 511.89 396.42 512.38 396.16 512.88 396.26 513.38 396 513.88 396 514.38 396.38 514.87 396.28 515.37 396.37 515.87 396.31 516.37 396.06 516.87 396.28 517.36 396.04 517.86 395.7 518.36 395.51 518.86 394.93 519.35 394.93 519.85 395.16 520.35 395.88 520.85 396.14 521.35 396.3 521.84 396.14 522.34 396.44 522.84 396.37 523.34 396.1 523.84 396.14 524.33 396.24 524.83 396.3 525.33 396.11 525.83 395.86 526.33 394.75 526.82 394.43 527.32 394.71 527.82 395.58 528.32 396.06 528.82 396.2 529.31 396.4 529.81 396.3 530.31 396.12 530.81 396.17 531.3 396.28 531.8 396.15 532.3 396.4 532.8 396.39 533.3 396.43 533.79 396.35 534.29 396.23 534.79 396.23 535.29 396.18 535.79 396.34 536.28 395.93 536.78 396.15 537.28 396.32 537.78 396.19 538.28 396.39 538.77 396.23 539.27 396.37 539.77 395.97 540.27 396.41 540.77 396.41 541.26 396.25 541.76 396.43 542.26 395.9 542.76 396.31 543.25 396.18 543.75 396.35 544.25 396.39 544.75 396.17 545.25 396.34 545.74 396.4 546.24 395.73 546.74 396.31 547.24 396.32 547.74 396.05 548.23 396.25 548.73 396.43 549.23 396.38 549.73 396.29 550.23 396.2 550.72 396.13 551.22 396.32 L551.22 396.89Z"/>
<path d="M399.36 405.85 L399.36 405.26 399.85 405.23 400.35 405.15 400.85 404.84 401.35 405.38 401.85 405.25 402.34 405.29 402.84 405.06 403.34 405.36 403.84 405.24 404.34 405.27 404.83 405.03 405.33 404.71 405.83 403.88 406.33 402.5 406.82 401.18 407.32 400.92 407.82 402.02 408.32 403.29 408.82 404.3 409.31 404.48 409.81 404.52 410.31 404.34 410.81 404.3 411.31 404.36 411.8 404.06 412.3 404.17 412.8 403.67 413.3 404.07 413.8 403.93 414.29 404.04 414.79 404.04 415.29 404.3 415.79 404.28 416.29 404.24 416.78 404.29 417.28 404.38 417.78 404.39 418.28 404.83 418.77 404.76 419.27 404.91 419.77 404.94 420.27 405.01 420.77 405.08 421.26 405.09 421.76 404.92 422.26 405.25 422.76 405.01 423.26 405.26 423.75 405.33 424.25 405.32 424.75 405.04 425.25 405.01 425.75 404.96 426.24 405.29 426.74 405.11 427.24 405.33 427.74 405.28 428.24 404.97 428.73 405.13 429.23 405.39 429.73 405.13 430.23 405.34 430.72 404.81 431.22 405.04 431.72 405.34 432.22 405.37 432.72 405.03 433.21 405.16 433.71 405.21 434.21 405.32 434.71 404.51 435.21 404.64 435.7 404.89 436.2 405.38 436.7 404.98 437.2 405.38 437.7 405.24 438.19 405.34 438.69 405.11 439.19 404.81 439.69 404.66 440.19 405 440.68 404.34 441.18 404.62 441.68 404.36 442.18 404.48 442.68 404.04 443.17 404.09 443.67 404.09 444.17 403.99 444.67 404.02 445.16 403.73 445.66 403.21 446.16 404.1 446.66 404.3 447.16 404.61 447.65 404.53 448.15 404.86 448.65 404.88 449.15 404.57 449.65 404.84 450.14 405.14 450.64 405.1 451.14 404.39 451.64 404.52 452.14 404.88 452.63 405.33 453.13 404.91 453.63 405.15 454.13 405.19 454.63 404.93 455.12 405.07 455.62 402.85 456.12 405.05 456.62 405.29 457.11 405.22 457.61 405.03 458.11 402.88 458.61 404.76 459.11 404.3 459.6 404.4 460.1 404.1 460.6 403.99 461.1 403.5 461.6 403.52 462.09 402.8 462.59 402.86 463.09 402.54 463.59 401.64 464.09 401.82 464.58 401.41 465.08 401.54 465.58 401.39 466.08 401.47 466.58 402.09 467.07 401.53 467.57 403.22 468.07 403.27 468.57 403.42 469.06 403.6 469.56 404.09 470.06 404.47 470.56 404.83 471.06 404.34 471.55 404.51 472.05 404.83 472.55 405.22 473.05 404.46 473.55 405.17 474.04 404.47 474.54 404.19 475.04 404.09 475.54 403.86 476.04 403.78 476.53 403.94 477.03 404.52 477.53 404.64 478.03 404.7 478.53 404.83 479.02 404.77 479.52 404.8 480.02 405.18 480.52 405.14 481.01 404.88 481.51 405.11 482.01 405.27 482.51 404.41 483.01 405.16 483.5 405 484 402.79 484.5 399.7 485 398.4 485.5 401.01 485.99 403.97 486.49 405.13 486.99 405.25 487.49 405.26 487.99 404.87 488.48 405.26 488.98 405.35 489.48 404.95 489.98 405.18 490.48 404.83 490.97 404.87 491.47 404.72 491.97 404.95 492.47 405.02 492.96 405.33 493.46 404.77 493.96 405.29 494.46 405.18 494.96 405.19 495.45 404.93 495.95 405.18 496.45 404.92 496.95 404.93 497.45 405.38 497.94 405.16 498.44 405.06 498.94 405.26 499.44 405.07 499.94 404.93 500.43 405.25 500.93 405.37 501.43 405.18 501.93 405.11 502.43 405.34 502.92 405.24 503.42 405.33 503.92 404.88 504.42 405.26 504.92 405.32 505.41 405.34 505.91 405.34 506.41 405 506.91 405.31 507.4 404.96 507.9 405.11 508.4 405.17 508.9 405.25 509.4 405.12 509.89 405.12 510.39 405.08 510.89 405.16 511.39 405.08 511.89 404.99 512.38 404.08 512.88 405.15 513.38 405.31 513.88 405.12 514.38 405.13 514.87 405.31 515.37 405.24 515.87 405.14 516.37 405.29 516.87 405.35 517.36 405.34 517.86 405.26 518.36 405.25 518.86 405.35 519.35 405.21 519.85 405.38 520.35 405.26 520.85 405.16 521.35 405.24 521.84 405.3 522.34 404.48 522.84 405.35 523.34 405.35 523.84 405.38 524.33 405.31 524.83 405.3 525.33 405.02 525.83 405.35 526.33 405.06 526.82 405.26 527.32 405.28 527.82 405.3 528.32 405.25 528.82 404.94 529.31 405.31 529.81 405.3 530.31 405.14 530.81 405.23 531.3 405.26 531.8 405.06 532.3 405.3 532.8 405.35 533.3 405.23 533.79 405.4 534.29 405.18 534.79 405.28 535.29 405.17 535.79 405.35 536.28 405.33 536.78 404.99 537.28 405.26 537.78 405.29 538.28 405.35 538.77 405.34 539.27 405.27 539.77 404.8 540.27 405.37 540.77 405.27 541.26 405.39 541.76 405.23 542.26 405.1 542.76 405.13 543.25 405.27 543.75 405.29 544.25 405.03 544.75 405.36 545.25 405.28 545.74 404.89 546.24 404.33 546.74 402.81 547.24 402.05 547.74 403.32 548.23 404.46 548.73 405.16 549.23 405.31 549.73 405.22 550.23 405.05 550.72 405.37 551.22 405.29 L551.22 405.85Z"/>
<path d="M399.36 414.81 L399.36 414.25 399.85 414.34 400.35 414.06 400.85 414.26 401.35 414.27 401.85 414.25 402.34 414.18 402.84 414.04 403.34 414.26 403.84 414.09 404.34 413.63 404.83 413.83 405.33 413.97 405.83 413.07 406.33 410.79 406.82 407.6 407.32 406.97 407.82 409.6 408.32 412.31 408.82 412.98 409.31 413.39 409.81 413.07 410.31 413.27 410.81 413.11 411.31 412.77 411.8 412.92 412.3 412.65 412.8 412.82 413.3 412.78 413.8 412.55 414.29 412.79 414.79 412.83 415.29 412.67 415.79 413.12 416.29 413.15 416.78 413.23 417.28 412.93 417.78 413.46 418.28 413.7 418.77 413.73 419.27 413.91 419.77 413.68 420.27 413.87 420.77 413.94 421.26 413.9 421.76 413.9 422.26 414.05 422.76 414.25 423.26 413.97 423.75 414.14 424.25 413.99 424.75 414.1 425.25 414.2 425.75 414.26 426.24 413.85 426.74 413.5 427.24 414.26 427.74 413.3 428.24 413.83 428.73 413.91 429.23 414.1 429.73 414.08 430.23 414.28 430.72 413.94 431.22 414.17 431.72 413.86 432.22 413.9 432.72 414.17 433.21 413.88 433.71 414.06 434.21 414.23 434.71 414.15 435.21 414.14 435.7 413.99 436.2 413.7 436.7 414.35 437.2 414.04 437.7 413.77 438.19 414.15 438.69 414.34 439.19 414.26 439.69 414.3 440.19 414.14 440.68 414.23 441.18 413.98 441.68 413.63 442.18 413.58 442.68 413.93 443.17 413.98 443.67 413.87 444.17 414.28 444.67 414.28 445.16 413.92 445.66 414.11 446.16 413.98 446.66 413.77 447.16 413.8 447.65 413.47 448.15 413.45 448.65 412.49 449.15 413.01 449.65 412.24 450.14 412.8 450.64 412.67 451.14 412.87 451.64 412.85 452.14 412.26 452.63 412.64 453.13 412.9 453.63 413.56 454.13 413.36 454.63 413.86 455.12 413.65 455.62 413.33 456.12 413.93 456.62 412.29 457.11 414.17 457.61 413.93 458.11 413.13 458.61 413.29 459.11 412.67 459.6 412.29 460.1 412.04 460.6 412.33 461.1 412.64 461.6 412.83 462.09 412.82 462.59 413.39 463.09 413.02 463.59 412.51 464.09 411.76 464.58 410.43 465.08 409.34 465.58 409.84 466.08 409.84 466.58 411.28 467.07 412.33 467.57 413.08 468.07 413.21 468.57 413.37 469.06 413.5 469.56 412.65 470.06 413.01 470.56 412.15 471.06 412.27 471.55 411.6 472.05 413.11 472.55 413.73 473.05 413.42 473.55 414.11 474.04 413.7 474.54 413.14 475.04 412.66 475.54 412.06 476.04 412.07 476.53 412.2 477.03 413.14 477.53 413.87 478.03 414.16 478.53 413.68 479.02 413.77 479.52 413.46 480.02 414.3 480.52 414.23 481.01 414.27 481.51 413.52 482.01 412.41 482.51 413.33 483.01 413.85 483.5 414.03 484 412.22 484.5 408.85 485 407.01 485.5 409.9 485.99 412.81 486.49 413.56 486.99 413.9 487.49 412.99 487.99 413.51 488.48 413.22 488.98 413.16 489.48 411.12 489.98 412.97 490.48 412.73 490.97 412.73 491.47 412.81 491.97 412.36 492.47 412.66 492.96 413 493.46 413.35 493.96 412.71 494.46 412.2 494.96 413.73 495.45 413.67 495.95 413.83 496.45 413.56 496.95 414.07 497.45 413.95 497.94 414.26 498.44 413.73 498.94 414.3 499.44 414.09 499.94 414.2 500.43 413.94 500.93 414.02 501.43 414.25 501.93 414 502.43 413.39 502.92 414.3 503.42 414.01 503.92 414.18 504.42 413.73 504.92 413.3 505.41 414.16 505.91 414.24 506.41 414.17 506.91 414.28 507.4 414.22 507.9 414.16 508.4 414.33 508.9 414.3 509.4 414.3 509.89 414.19 510.39 414.13 510.89 413.97 511.39 414.27 511.89 414.25 512.38 414.23 512.88 414.28 513.38 414.14 513.88 413.92 514.38 414.2 514.87 414.24 515.37 414.29 515.87 414.02 516.37 414.06 516.87 413.9 517.36 413.72 517.86 414.14 518.36 414.32 518.86 414.05 519.35 414.22 519.85 414.23 520.35 414.22 520.85 414.28 521.35 413.29 521.84 414.33 522.34 414.25 522.84 414.26 523.34 413.96 523.84 414.19 524.33 414.11 524.83 414.31 525.33 414.32 525.83 414.31 526.33 414.28 526.82 413.8 527.32 413.6 527.82 414.3 528.32 414.33 528.82 414.12 529.31 414.21 529.81 414.24 530.31 414.3 530.81 414.32 531.3 414.1 531.8 414.06 532.3 414.19 532.8 413.57 533.3 414.14 533.79 414.31 534.29 414.27 534.79 414.17 535.29 414.27 535.79 414.25 536.28 414.06 536.78 413.88 537.28 414.29 537.78 414.3 538.28 414.33 538.77 414.3 539.27 413.93 539.77 414.29 540.27 414.29 540.77 414.01 541.26 414.18 541.76 414.25 542.26 414.27 542.76 414.23 543.25 414.12 543.75 414.24 544.25 414.17 544.75 414.28 545.25 413.87 545.74 413.93 546.24 413.16 546.74 412.58 547.24 412.14 547.74 412.64 548.23 413.07 548.73 413.98 549.23 414.15 549.73 414.21 550.23 414.31 550.72 414.18 551.22 414.26 L551.22 414.81Z"/>
<path d="M399.36 423.77 L399.36 423.14 399.85 423.19 400.35 423 400.85 423.14 401.35 423.24 401.85 423.29 402.34 423.17 402.84 422.42 403.34 423.16 403.84 423.24 404.34 423.22 404.83 422.89 405.33 422.92 405.83 421.79 406.33 420.3 406.82 418.35 407.32 418.04 407.82 419.62 408.32 421.24 408.82 422.36 409.31 422.45 409.81 422.43 410.31 422.27 410.81 422.35 411.31 422.07 411.8 422.19 412.3 421.95 412.8 421.86 413.3 421.82 413.8 421.9 414.29 422.02 414.79 421.37 415.29 422.23 415.79 422.14 416.29 422.4 416.78 422.25 417.28 422.59 417.78 422.71 418.28 422.46 418.77 422.88 419.27 422.95 419.77 422.65 420.27 422.64 420.77 423.12 421.26 423.18 421.76 423.13 422.26 423.09 422.76 423.17 423.26 423.06 423.75 422.89 424.25 423.13 424.75 423.29 425.25 422.45 425.75 423.27 426.24 423.15 426.74 423.02 427.24 422.88 427.74 423.28 428.24 423.23 428.73 423.31 429.23 423.13 429.73 423.25 430.23 423.26 430.72 422.71 431.22 422.87 431.72 423.01 432.22 423.08 432.72 422.87 433.21 423.26 433.71 423.14 434.21 423.28 434.71 423.14 435.21 423.29 435.7 422.89 436.2 423.28 436.7 422.78 437.2 423.18 437.7 423.26 438.19 423 438.69 423.09 439.19 422.89 439.69 423.24 440.19 423.19 440.68 423.18 441.18 422.2 441.68 423.04 442.18 423.1 442.68 423.26 443.17 423.27 443.67 422.65 444.17 422.91 444.67 422.21 445.16 422.92 445.66 423.03 446.16 422.97 446.66 423.26 447.16 423.18 447.65 423.27 448.15 422.59 448.65 422.79 449.15 422.99 449.65 423.14 450.14 423.02 450.64 422.32 451.14 422.96 451.64 423.21 452.14 423.25 452.63 422.74 453.13 423.08 453.63 422.93 454.13 422.65 454.63 423.18 455.12 423.29 455.62 422.71 456.12 423.05 456.62 422.98 457.11 422.88 457.61 422.7 458.11 423.2 458.61 423.06 459.11 422.91 459.6 422.81 460.1 423.03 460.6 422.45 461.1 422.77 461.6 422.22 462.09 421.56 462.59 420.57 463.09 419.31 463.59 419.81 464.09 420.88 464.58 421.53 465.08 421.95 465.58 421.67 466.08 422.18 466.58 421.53 467.07 420.46 467.57 420.05 468.07 420.07 468.57 420.34 469.06 421.8 469.56 422.52 470.06 422.2 470.56 423.08 471.06 423.02 471.55 422.78 472.05 423.03 472.55 422.89 473.05 422.22 473.55 421.88 474.04 421.51 474.54 421.54 475.04 422.31 475.54 422.69 476.04 422.66 476.53 422.87 477.03 422.96 477.53 422.89 478.03 423.28 478.53 422.92 479.02 423.05 479.52 423.3 480.02 422.91 480.52 422.98 481.01 422.74 481.51 422.83 482.01 423.15 482.51 423.07 483.01 422.6 483.5 421.96 484 420.72 484.5 417.04 485 414.41 485.5 416.1 485.99 420.61 486.49 422.26 486.99 422.18 487.49 421.74 487.99 421.99 488.48 422.09 488.98 421.58 489.48 421.67 489.98 421.69 490.48 421.64 490.97 421.72 491.47 421.44 491.97 421.7 492.47 421.64 492.96 421.97 493.46 421.83 493.96 421.95 494.46 422.21 494.96 422.24 495.45 422.01 495.95 422.44 496.45 422.6 496.95 422.67 497.45 422.52 497.94 422.93 498.44 422.62 498.94 422.72 499.44 422.89 499.94 422.96 500.43 422.86 500.93 422.83 501.43 422.53 501.93 421.93 502.43 422.41 502.92 422.71 503.42 422.6 503.92 422.36 504.42 422.39 504.92 422.28 505.41 422.35 505.91 422.25 506.41 421.8 506.91 422.06 507.4 422.18 507.9 422.04 508.4 421.92 508.9 422.43 509.4 422.48 509.89 422.4 510.39 422.39 510.89 422.66 511.39 422.1 511.89 422.31 512.38 422.66 512.88 422.96 513.38 423.06 513.88 423.03 514.38 422.81 514.87 422.83 515.37 422.9 515.87 422.03 516.37 423.2 516.87 423.12 517.36 423.3 517.86 423.22 518.36 423 518.86 423.26 519.35 423.11 519.85 423.22 520.35 423.31 520.85 423.05 521.35 422.97 521.84 423.11 522.34 423.24 522.84 423.11 523.34 423.07 523.84 423.08 524.33 423.17 524.83 423.04 525.33 423.27 525.83 423.25 526.33 423.2 526.82 423.3 527.32 423.24 527.82 423.23 528.32 423.24 528.82 423.19 529.31 422.74 529.81 423.21 530.31 423.13 530.81 423.25 531.3 422.62 531.8 423.19 532.3 423.02 532.8 423.26 533.3 423.23 533.79 423.15 534.29 423.08 534.79 423.29 535.29 423.15 535.79 422.93 536.28 423.12 536.78 423.31 537.28 423.11 537.78 423.3 538.28 423.05 538.77 422.55 539.27 423.17 539.77 423.07 540.27 423.26 540.77 423.06 541.26 423.13 541.76 423.19 542.26 423.27 542.76 423.26 543.25 423.23 543.75 423.18 544.25 423.19 544.75 423.17 545.25 423.16 545.74 423.26 546.24 423.24 546.74 423.14 547.24 423.24 547.74 423.29 548.23 423.3 548.73 423.28 549.23 423.19 549.73 423.26 550.23 423.31 550.72 423.22 551.22 423.15 L551.22 423.77Z"/>
<path d="M399.36 432.73 L399.36 432.16 399.85 432.26 400.35 431.97 400.85 432.21 401.35 432.08 401.85 432.21 402.34 432.23 402.84 432.04 403.34 432.21 403.84 432.16 404.34 432.09 404.83 432.13 405.33 432.14 405.83 431.41 406.33 429.89 406.82 427.34 407.32 427.25 407.82 429.34 408.32 431.24 408.82 431.93 409.31 432.02 409.81 432.23 410.31 432.22 410.81 431.92 411.31 432.07 411.8 432.18 412.3 432.22 412.8 432.2 413.3 432.05 413.8 432.28 414.29 432.04 414.79 432.27 415.29 432.21 415.79 432.19 416.29 431.82 416.78 432.02 417.28 432.16 417.78 432.09 418.28 432.09 418.77 432.23 419.27 432.14 419.77 432.16 420.27 431.56 420.77 432.05 421.26 431.96 421.76 432.11 422.26 432.12 422.76 432.18 423.26 432.14 423.75 431.61 424.25 431.13 424.75 431.56 425.25 431.67 425.75 432.15 426.24 432.27 426.74 432.17 427.24 432.18 427.74 432.07 428.24 432.22 428.73 432.25 429.23 431.69 429.73 431.82 430.23 432.26 430.72 431.89 431.22 431.65 431.72 432.23 432.22 432.02 432.72 431.73 433.21 432.12 433.71 432.15 434.21 432.05 434.71 431.83 435.21 432.04 435.7 431.69 436.2 432.21 436.7 431.94 437.2 432.05 437.7 432.05 438.19 431.4 438.69 432.16 439.19 432.19 439.69 431.86 440.19 431.96 440.68 430.54 441.18 432.14 441.68 432.08 442.18 431.8 442.68 431.9 443.17 432.14 443.67 432.11 444.17 431.84 444.67 432.11 445.16 432.26 445.66 432.25 446.16 432.25 446.66 432 447.16 430.24 447.65 431.58 448.15 431.9 448.65 432.24 449.15 432.04 449.65 431.84 450.14 431.21 450.64 432.25 451.14 432.18 451.64 432.15 452.14 432.23 452.63 432.03 453.13 432.1 453.63 431.96 454.13 432.19 454.63 432.14 455.12 431.84 455.62 431.61 456.12 432.09 456.62 432.05 457.11 431.66 457.61 431.77 458.11 431.42 458.61 431.59 459.11 432.13 459.6 431.37 460.1 431.15 460.6 431.22 461.1 429.12 461.6 429.03 462.09 429.08 462.59 430.48 463.09 431.09 463.59 431.28 464.09 429.16 464.58 428.06 465.08 429.08 465.58 428.33 466.08 429.07 466.58 430.34 467.07 430.93 467.57 431.31 468.07 430.99 468.57 430.2 469.06 428.79 469.56 429.76 470.06 429.6 470.56 431.24 471.06 431.25 471.55 431.58 472.05 430.74 472.55 431.9 473.05 431.93 473.55 432.03 474.04 431.71 474.54 432.26 475.04 431.82 475.54 431.78 476.04 432.27 476.53 431.78 477.03 432.1 477.53 432 478.03 431.09 478.53 430.7 479.02 430.95 479.52 431.75 480.02 432.16 480.52 431.77 481.01 432.21 481.51 431.56 482.01 431.95 482.51 431.5 483.01 431.81 483.5 431.22 484 430.12 484.5 426.98 485 425.14 485.5 427.91 485.99 430.92 486.49 431.6 486.99 432.11 487.49 431.82 487.99 431.76 488.48 431.34 488.98 431.39 489.48 431.12 489.98 430.55 490.48 430.09 490.97 430.53 491.47 430.9 491.97 431.42 492.47 431.53 492.96 431.4 493.46 431.83 493.96 431.71 494.46 431.57 494.96 431.79 495.45 432.04 495.95 431.74 496.45 432.2 496.95 432.28 497.45 432.07 497.94 432.22 498.44 432.15 498.94 431.89 499.44 432.19 499.94 432.07 500.43 431.86 500.93 431.57 501.43 431.77 501.93 432.21 502.43 432.13 502.92 431.73 503.42 432.18 503.92 432.26 504.42 432.05 504.92 432.21 505.41 432.08 505.91 432.19 506.41 432.27 506.91 432.22 507.4 431.48 507.9 431.65 508.4 432.11 508.9 432.1 509.4 432.21 509.89 432.25 510.39 432.16 510.89 432.09 511.39 432.12 511.89 432.16 512.38 431.99 512.88 432.28 513.38 432.17 513.88 432.08 514.38 431.94 514.87 432.15 515.37 432.26 515.87 432.11 516.37 432.01 516.87 431.64 517.36 431.9 517.86 431.86 518.36 432.23 518.86 432.02 519.35 431.73 519.85 432.12 520.35 432.25 520.85 432.04 521.35 432.27 521.84 432.15 522.34 432.06 522.84 432.21 523.34 432.17 523.84 432.23 524.33 432.28 524.83 432.12 525.33 432.13 525.83 432.17 526.33 432.27 526.82 432.15 527.32 432.24 527.82 432.21 528.32 432.13 528.82 432.09 529.31 432.21 529.81 432.13 530.31 432.04 530.81 432.16 531.3 432.13 531.8 432.02 532.3 432 532.8 431.94 533.3 432.19 533.79 432.21 534.29 432.27 534.79 432.18 535.29 431.96 535.79 432.13 536.28 431.97 536.78 432.18 537.28 432.08 537.78 432.23 538.28 432.16 538.77 432.14 539.27 431.95 539.77 431.88 540.27 432.23 540.77 432.07 541.26 432.15 541.76 432.08 542.26 432.16 542.76 432.14 543.25 432.05 543.75 432.18 544.25 432.25 544.75 431.87 545.25 431.98 545.74 431.83 546.24 432.2 546.74 432.19 547.24 432.07 547.74 432.21 548.23 432.11 548.73 432.08 549.23 432.15 549.73 432.02 550.23 431.82 550.72 432.06 551.22 432.1 L551.22 432.73Z"/>
<path d="M399.36 441.69 L399.36 441.06 399.85 441.23 400.35 441.12 400.85 441.03 401.35 441.17 401.85 440.84 402.34 440.95 402.84 441.22 403.34 441.03 403.84 441.15 404.34 441.11 404.83 441.16 405.33 440.91 405.83 440.27 406.33 437.84 406.82 434.71 407.32 434.52 407.82 437.1 408.32 439.58 408.82 440.9 409.31 441.18 409.81 441.17 410.31 440.83 410.81 441.17 411.31 440.98 411.8 441.22 412.3 440.93 412.8 441.15 413.3 441.24 413.8 441.2 414.29 441.15 414.79 441.24 415.29 440.89 415.79 441.12 416.29 441.13 416.78 440.89 417.28 441.12 417.78 441.1 418.28 440.88 418.77 441.18 419.27 441.02 419.77 440.96 420.27 441.1 420.77 441.17 421.26 440.96 421.76 441.09 422.26 440.96 422.76 441.13 423.26 441.05 423.75 441.05 424.25 440.88 424.75 441.14 425.25 440.64 425.75 441.22 426.24 441.14 426.74 441.11 427.24 441.08 427.74 440.87 428.24 441.16 428.73 441.11 429.23 440.96 429.73 441.23 430.23 441.01 430.72 441.2 431.22 440.93 431.72 441.16 432.22 441.05 432.72 441.2 433.21 441.23 433.71 441.16 434.21 440.6 434.71 441.23 435.21 440.91 435.7 440.93 436.2 440.88 436.7 440.87 437.2 440.82 437.7 441 438.19 440.95 438.69 441.04 439.19 441.07 439.69 440.92 440.19 440.26 440.68 441.17 441.18 441.18 441.68 440.99 442.18 441.06 442.68 441.12 443.17 441.14 443.67 441.01 444.17 440.94 444.67 440.74 445.16 440.54 445.66 441.21 446.16 440.41 446.66 441.02 447.16 441.22 447.65 440.67 448.15 440.57 448.65 439.51 449.15 441.14 449.65 441.19 450.14 441.2 450.64 441.14 451.14 440.4 451.64 440.97 452.14 441.11 452.63 441.1 453.13 441.21 453.63 441.23 454.13 441.18 454.63 440.99 455.12 440.24 455.62 440.59 456.12 441.14 456.62 440.99 457.11 440.59 457.61 439.91 458.11 440.13 458.61 440.78 459.11 440.06 459.6 440.55 460.1 440.84 460.6 440.48 461.1 440.14 461.6 438.54 462.09 435.49 462.59 435.76 463.09 437.81 463.59 439.27 464.09 439.24 464.58 439.27 465.08 438.95 465.58 437.26 466.08 434.87 466.58 434.76 467.07 437.51 467.57 439.23 468.07 439.78 468.57 440.12 469.06 439.84 469.56 439.27 470.06 439.15 470.56 439.54 471.06 439.84 471.55 440.85 472.05 440.54 472.55 441 473.05 440.12 473.55 440.72 474.04 440.94 474.54 441.02 475.04 440.92 475.54 440.82 476.04 440.95 476.53 440.47 477.03 441.18 477.53 441.09 478.03 441.16 478.53 441.15 479.02 441.08 479.52 440.82 480.02 440.84 480.52 441.18 481.01 440.79 481.51 440.22 482.01 440.34 482.51 441.09 483.01 441.07 483.5 440.28 484 439.97 484.5 436.65 485 435.05 485.5 437.86 485.99 440.27 486.49 441.02 486.99 440.86 487.49 441.14 487.99 439.65 488.48 441.2 488.98 441.03 489.48 441.22 489.98 440.54 490.48 441.22 490.97 440.81 491.47 440.7 491.97 440.67 492.47 441.15 492.96 440.89 493.46 441.1 493.96 440.76 494.46 441.02 494.96 441.09 495.45 439.79 495.95 440.86 496.45 440.89 496.95 441.03 497.45 441.04 497.94 441.23 498.44 440.85 498.94 440.19 499.44 439.53 499.94 441.1 500.43 441.12 500.93 441.04 501.43 440.91 501.93 441.06 502.43 440.85 502.92 441.01 503.42 440.5 503.92 440.98 504.42 441.12 504.92 441.23 505.41 440.96 505.91 440.86 506.41 440.96 506.91 441.22 507.4 441.02 507.9 439.98 508.4 441.02 508.9 441.23 509.4 441.12 509.89 440.94 510.39 441.04 510.89 440.71 511.39 440.96 511.89 441.2 512.38 440.9 512.88 441.19 513.38 441.03 513.88 441.17 514.38 440.99 514.87 441.16 515.37 441.02 515.87 440.76 516.37 441.01 516.87 440.96 517.36 440.51 517.86 441.07 518.36 441.15 518.86 441.18 519.35 440.66 519.85 440.93 520.35 441.05 520.85 440.99 521.35 441.02 521.84 441.15 522.34 441.2 522.84 441.21 523.34 441.18 523.84 441.22 524.33 441.19 524.83 440.87 525.33 441.04 525.83 441 526.33 440.88 526.82 441.16 527.32 441.09 527.82 441.21 528.32 440.77 528.82 440.92 529.31 440.96 529.81 441.23 530.31 441.08 530.81 441.1 531.3 441.01 531.8 441.05 532.3 441.08 532.8 440.87 533.3 441.22 533.79 441.17 534.29 441.12 534.79 441.08 535.29 441.14 535.79 441.06 536.28 441.2 536.78 441.16 537.28 440.65 537.78 441.23 538.28 440.95 538.77 441.16 539.27 441.18 539.77 441 540.27 441.24 540.77 441.17 541.26 441.14 541.76 441.14 542.26 440.54 542.76 441.13 543.25 440.91 543.75 441.12 544.25 440.53 544.75 441.12 545.25 441.23 545.74 441.12 546.24 441.16 546.74 441.16 547.24 441.15 547.74 441.2 548.23 440.91 548.73 441.21 549.23 441.2 549.73 440.98 550.23 441.2 550.72 441.03 551.22 440.88 L551.22 441.69Z"/>
<path d="M399.36 450.65 L399.36 450.16 399.85 450.16 400.35 450.09 400.85 450.09 401.35 449.99 401.85 450.1 402.34 450.12 402.84 449.78 403.34 449.81 403.84 450.13 404.34 450.08 404.83 450 405.33 450.06 405.83 449.29 406.33 447.36 406.82 444.66 407.32 444.19 407.82 446.52 408.32 448.87 408.82 449.66 409.31 449.94 409.81 450.08 410.31 450.06 410.81 450.03 411.31 450.09 411.8 450.01 412.3 450.03 412.8 450.16 413.3 449.9 413.8 450.19 414.29 450.08 414.79 450.15 415.29 450.05 415.79 450.19 416.29 450.19 416.78 449.78 417.28 449.47 417.78 449.03 418.28 449.14 418.77 449.7 419.27 450.08 419.77 449.77 420.27 449.97 420.77 450.18 421.26 449.55 421.76 449.86 422.26 450.07 422.76 449.89 423.26 450.01 423.75 449.72 424.25 449.91 424.75 449.98 425.25 450.15 425.75 450.19 426.24 450.09 426.74 450.18 427.24 449.78 427.74 449.82 428.24 449.82 428.73 450.04 429.23 450.19 429.73 449.82 430.23 450.13 430.72 450.16 431.22 449.99 431.72 450.09 432.22 449.79 432.72 449.99 433.21 449.88 433.71 450.01 434.21 450.07 434.71 449.72 435.21 449.99 435.7 449.93 436.2 449.94 436.7 450.01 437.2 449.62 437.7 449.91 438.19 449.4 438.69 450.02 439.19 450.19 439.69 449.92 440.19 450.04 440.68 450.04 441.18 450.1 441.68 449.66 442.18 449.12 442.68 450.11 443.17 449.63 443.67 450.07 444.17 450.17 444.67 449.99 445.16 449.81 445.66 449.8 446.16 449.98 446.66 449.68 447.16 450.02 447.65 449.8 448.15 449.84 448.65 449.3 449.15 450.05 449.65 449.75 450.14 449.67 450.64 449.84 451.14 449.8 451.64 450.11 452.14 449.87 452.63 449.67 453.13 449.98 453.63 449.96 454.13 449.57 454.63 450 455.12 450.13 455.62 450.03 456.12 449.93 456.62 450.13 457.11 450 457.61 449.6 458.11 449.82 458.61 449.85 459.11 449.7 459.6 449.76 460.1 449.41 460.6 447.07 461.1 447.45 461.6 446.49 462.09 445.97 462.59 448.01 463.09 448.68 463.59 448.34 464.09 447.27 464.58 446.87 465.08 444.01 465.58 443.25 466.08 445.38 466.58 447.24 467.07 448.36 467.57 448.49 468.07 448.48 468.57 447 469.06 447.21 469.56 447.05 470.06 448.12 470.56 449.06 471.06 449.7 471.55 449.14 472.05 449.57 472.55 449.04 473.05 449.98 473.55 449.88 474.04 449.35 474.54 450.12 475.04 449.41 475.54 449.55 476.04 449.76 476.53 450.07 477.03 450.12 477.53 450.07 478.03 450.07 478.53 449.88 479.02 449.52 479.52 449.88 480.02 449.8 480.52 449.78 481.01 449.7 481.51 449.79 482.01 449.91 482.51 449.37 483.01 449.53 483.5 449.41 484 448.28 484.5 445.71 485 443.89 485.5 446.05 485.99 448.95 486.49 449.76 486.99 449.5 487.49 448.96 487.99 449.17 488.48 448.45 488.98 448.1 489.48 448.92 489.98 449.52 490.48 449.46 490.97 450.11 491.47 449.95 491.97 449.17 492.47 450.19 492.96 449.88 493.46 449.83 493.96 450.17 494.46 450.12 494.96 449.57 495.45 449.59 495.95 449.88 496.45 449.49 496.95 449.41 497.45 449.57 497.94 449.78 498.44 450.02 498.94 450.16 499.44 450.17 499.94 450.17 500.43 449.55 500.93 450.06 501.43 450.06 501.93 449.99 502.43 450.1 502.92 450.06 503.42 450.02 503.92 449.59 504.42 450.11 504.92 450.1 505.41 449.8 505.91 449.63 506.41 449.73 506.91 450.18 507.4 450.04 507.9 450.14 508.4 449.99 508.9 450.14 509.4 449.45 509.89 450.1 510.39 450.1 510.89 449.76 511.39 449.98 511.89 450.14 512.38 450.07 512.88 450.13 513.38 450.19 513.88 449.94 514.38 450.06 514.87 449.95 515.37 449.82 515.87 449.85 516.37 449.68 516.87 449.35 517.36 449.21 517.86 449.15 518.36 449.54 518.86 449.78 519.35 450.02 519.85 450.05 520.35 450.15 520.85 450.19 521.35 450.18 521.84 450.11 522.34 450.06 522.84 450.17 523.34 450.09 523.84 449.83 524.33 449.93 524.83 450.11 525.33 449.97 525.83 450.04 526.33 449.93 526.82 449.97 527.32 450.06 527.82 450.19 528.32 450.18 528.82 449.9 529.31 450.13 529.81 450.07 530.31 449.74 530.81 450.02 531.3 449.81 531.8 450.19 532.3 449.75 532.8 450.02 533.3 450.06 533.79 450.12 534.29 449.94 534.79 450.07 535.29 450 535.79 450.12 536.28 450.19 536.78 449.45 537.28 450.03 537.78 449.93 538.28 449.81 538.77 449.56 539.27 449.91 539.77 450.09 540.27 449.91 540.77 450.19 541.26 450.11 541.76 450.06 542.26 449.53 542.76 450.19 543.25 450.04 543.75 450.12 544.25 449.84 544.75 449.94 545.25 450.01 545.74 450.12 546.24 450.06 546.74 450.13 547.24 450.08 547.74 449.19 548.23 449.91 548.73 450.05 549.23 449.93 549.73 450.19 550.23 450.08 550.72 450.05 551.22 450.11 L551.22 450.65Z"/>
<path d="M399.36 459.61 L399.36 459.16 399.85 458.87 400.35 459.02 400.85 459.16 401.35 459.14 401.85 458.96 402.34 459.1 402.84 458.95 403.34 459.11 403.84 459.03 404.34 458.99 404.83 458.81 405.33 458.49 405.83 458.07 406.33 456.35 406.82 454.44 407.32 454.09 407.82 455.79 408.32 457.29 408.82 458.44 409.31 458.93 409.81 459.1 410.31 459.09 410.81 459.08 411.31 459.13 411.8 458.96 412.3 459.05 412.8 459 413.3 459 413.8 458.98 414.29 458.93 414.79 458.86 415.29 459.03 415.79 458.98 416.29 458.72 416.78 459.11 417.28 459.11 417.78 459.14 418.28 458.96 418.77 458.92 419.27 459.16 419.77 458.94 420.27 458.81 420.77 459.06 421.26 459.02 421.76 458.58 422.26 459.13 422.76 458.74 423.26 458.76 423.75 458.92 424.25 459.1 424.75 459.12 425.25 459.07 425.75 458.61 426.24 459.08 426.74 459.03 427.24 459.08 427.74 459.14 428.24 458.83 428.73 459.02 429.23 458.88 429.73 458.87 430.23 458.62 430.72 459.03 431.22 459.12 431.72 458.99 432.22 458.97 432.72 459.04 433.21 458.91 433.71 458.6 434.21 458.82 434.71 459.16 435.21 459 435.7 458.93 436.2 458.97 436.7 458.74 437.2 459.09 437.7 458.77 438.19 459.02 438.69 458.91 439.19 458.66 439.69 457.44 440.19 458.8 440.68 458.85 441.18 458.69 441.68 459.09 442.18 458.46 442.68 459.11 443.17 458.81 443.67 458.94 444.17 458.35 444.67 459.14 445.16 459.11 445.66 458.93 446.16 459.02 446.66 458.96 447.16 459.07 447.65 458.87 448.15 459.03 448.65 459.01 449.15 459.15 449.65 459.06 450.14 459 450.64 459.09 451.14 458.36 451.64 459.04 452.14 458.8 452.63 459.08 453.13 458.49 453.63 459.1 454.13 458.57 454.63 458.97 455.12 458.55 455.62 459.06 456.12 458.85 456.62 457.58 457.11 458.78 457.61 459.06 458.11 458.86 458.61 458.64 459.11 458.43 459.6 458.19 460.1 458.42 460.6 458.14 461.1 458.25 461.6 456.05 462.09 454.58 462.59 454.37 463.09 455.57 463.59 457.29 464.09 456.9 464.58 457.26 465.08 456.71 465.58 454.73 466.08 452.78 466.58 452.82 467.07 454.83 467.57 456.61 468.07 457.22 468.57 457.09 469.06 457.25 469.56 456.52 470.06 456.55 470.56 456.5 471.06 457.72 471.55 458.45 472.05 457.44 472.55 458.46 473.05 458.8 473.55 458.78 474.04 458.76 474.54 458.95 475.04 457.65 475.54 458.7 476.04 458.07 476.53 458.97 477.03 459.1 477.53 457.99 478.03 459.07 478.53 459.03 479.02 459.03 479.52 459.11 480.02 458.86 480.52 458.33 481.01 458.98 481.51 458.9 482.01 458.57 482.51 458.57 483.01 458.42 483.5 458.75 484 457.18 484.5 453.72 485 451.93 485.5 454.68 485.99 457.74 486.49 458.79 486.99 459.05 487.49 458.68 487.99 459.01 488.48 458.61 488.98 458.78 489.48 459.02 489.98 458.72 490.48 458.84 490.97 458.81 491.47 458.92 491.97 458.89 492.47 458.97 492.96 458.4 493.46 459.11 493.96 458.89 494.46 459.07 494.96 459.05 495.45 458.92 495.95 458.35 496.45 458.7 496.95 458.04 497.45 457.72 497.94 458.23 498.44 458.15 498.94 458.83 499.44 458.73 499.94 459.09 500.43 458.82 500.93 458.96 501.43 458.7 501.93 458.94 502.43 458.98 502.92 459.06 503.42 459.08 503.92 459.05 504.42 458.21 504.92 458.93 505.41 458.94 505.91 459.02 506.41 458.48 506.91 458.96 507.4 459.09 507.9 458.83 508.4 459.11 508.9 458.44 509.4 458.96 509.89 458.87 510.39 458.78 510.89 459.1 511.39 459.06 511.89 459.05 512.38 459.04 512.88 458.97 513.38 459 513.88 459 514.38 458.7 514.87 459.12 515.37 459.07 515.87 458.32 516.37 458.98 516.87 459.05 517.36 459.13 517.86 458.99 518.36 459.06 518.86 458.9 519.35 459.14 519.85 459.03 520.35 458.94 520.85 459.03 521.35 458.68 521.84 459.08 522.34 459.11 522.84 458.86 523.34 458.98 523.84 459 524.33 459.06 524.83 458.79 525.33 459.06 525.83 458.94 526.33 459.14 526.82 459.1 527.32 459.08 527.82 459.02 528.32 459.14 528.82 459.09 529.31 459.06 529.81 458.71 530.31 459.07 530.81 459.03 531.3 459.16 531.8 459.16 532.3 458.99 532.8 458.78 533.3 458.93 533.79 458.81 534.29 459.08 534.79 459.06 535.29 459 535.79 458.89 536.28 458.88 536.78 459.02 537.28 458.9 537.78 458.27 538.28 459.02 538.77 458.92 539.27 459.13 539.77 459.09 540.27 459.02 540.77 458.8 541.26 458.94 541.76 458.62 542.26 459.05 542.76 458.79 543.25 458.73 543.75 459.14 544.25 459.02 544.75 459.07 545.25 459.16 545.74 459.04 546.24 459.15 546.74 458.78 547.24 458.99 547.74 458.98 548.23 459.11 548.73 459.07 549.23 459.03 549.73 459.08 550.23 459.01 550.72 459.13 551.22 459.03 L551.22 459.61Z"/>
<path d="M399.36 468.57 L399.36 467.86 399.85 468.07 400.35 468.01 400.85 467.96 401.35 467.87 401.85 467.72 402.34 468.06 402.84 468 403.34 467.83 403.84 467.95 404.34 467.93 404.83 467.35 405.33 467.6 405.83 466.52 406.33 464.5 406.82 462.17 407.32 461.76 407.82 463.53 408.32 465.96 408.82 467 409.31 467.12 409.81 467.32 410.31 467.19 410.81 466.91 411.31 466.55 411.8 466.93 412.3 466.71 412.8 466.76 413.3 466.77 413.8 466.77 414.29 466.19 414.79 466.61 415.29 466.98 415.79 467.12 416.29 466.95 416.78 467.25 417.28 467.27 417.78 467.27 418.28 467.36 418.77 467.64 419.27 467.67 419.77 467.79 420.27 467.9 420.77 467.87 421.26 467.61 421.76 467.93 422.26 467.22 422.76 468.03 423.26 467.57 423.75 467.88 424.25 467.63 424.75 467.05 425.25 468.1 425.75 467.99 426.24 467.64 426.74 467.68 427.24 468.07 427.74 468.06 428.24 467.61 428.73 468.04 429.23 468.01 429.73 467.73 430.23 467.93 430.72 468.08 431.22 468.05 431.72 468.06 432.22 467.85 432.72 467.97 433.21 467.89 433.71 468.04 434.21 467.51 434.71 468 435.21 468.01 435.7 467.91 436.2 467.92 436.7 468.1 437.2 467.96 437.7 467.98 438.19 467.64 438.69 468.12 439.19 467.64 439.69 467.41 440.19 468.01 440.68 467.84 441.18 466.76 441.68 467.29 442.18 467.96 442.68 467.33 443.17 468.04 443.67 468.03 444.17 468.09 444.67 467.76 445.16 468.03 445.66 468.02 446.16 468.02 446.66 467.81 447.16 467.84 447.65 467.21 448.15 467.43 448.65 466.83 449.15 466.79 449.65 466.67 450.14 467.2 450.64 467.7 451.14 467.71 451.64 467.41 452.14 467.24 452.63 468.04 453.13 467.56 453.63 467.82 454.13 467.58 454.63 467.46 455.12 467.69 455.62 467.59 456.12 467.64 456.62 467.98 457.11 466.96 457.61 466.93 458.11 467.6 458.61 467.63 459.11 466.72 459.6 466.3 460.1 465.8 460.6 465.82 461.1 466.54 461.6 466.14 462.09 466.49 462.59 466.93 463.09 466.41 463.59 465.09 464.09 462.91 464.58 461.89 465.08 462.21 465.58 464.11 466.08 465.72 466.58 466.05 467.07 466.23 467.57 466.16 468.07 465.57 468.57 465.89 469.06 465.17 469.56 465.35 470.06 465.7 470.56 466.54 471.06 466.85 471.55 467.49 472.05 466.77 472.55 467.16 473.05 467.65 473.55 467.89 474.04 467.72 474.54 467.5 475.04 466.47 475.54 466.02 476.04 467.53 476.53 466.8 477.03 467.28 477.53 467.99 478.03 467.99 478.53 467.56 479.02 467.93 479.52 468.09 480.02 467.61 480.52 467.81 481.01 467.02 481.51 467.89 482.01 467.51 482.51 467.82 483.01 466.29 483.5 467.61 484 466.26 484.5 462.56 485 461.05 485.5 463.39 485.99 466.56 486.49 467.07 486.99 468.06 487.49 468 487.99 467.55 488.48 465.56 488.98 465.96 489.48 465.97 489.98 465.36 490.48 466.43 490.97 467.48 491.47 467.94 491.97 468.03 492.47 468.11 492.96 468.11 493.46 467.76 493.96 467.93 494.46 467.3 494.96 467.74 495.45 467.94 495.95 467.96 496.45 467.77 496.95 468.1 497.45 467.94 497.94 466.57 498.44 467.57 498.94 467.32 499.44 467.27 499.94 466.32 500.43 465.5 500.93 466.05 501.43 466.7 501.93 467.55 502.43 467.94 502.92 467.87 503.42 467.55 503.92 467.24 504.42 467.38 504.92 467.5 505.41 466.94 505.91 467.03 506.41 466.6 506.91 466.58 507.4 466.66 507.9 466.35 508.4 466.56 508.9 466.56 509.4 466.28 509.89 466.9 510.39 466.95 510.89 467.01 511.39 466.38 511.89 467.54 512.38 467.58 512.88 467.64 513.38 467.89 513.88 467.68 514.38 467.83 514.87 467.6 515.37 467.88 515.87 468.05 516.37 468.04 516.87 468.07 517.36 467.98 517.86 467.98 518.36 468.1 518.86 468.04 519.35 467.73 519.85 467.73 520.35 468.12 520.85 468.02 521.35 467.97 521.84 467.89 522.34 468.02 522.84 467.98 523.34 467.87 523.84 468.07 524.33 468.01 524.83 467.59 525.33 468.03 525.83 467.76 526.33 468.01 526.82 467.93 527.32 467.94 527.82 468.06 528.32 468.01 528.82 467.79 529.31 468.04 529.81 468.08 530.31 467.77 530.81 467.98 531.3 468.07 531.8 468.11 532.3 467.89 532.8 468.01 533.3 468.08 533.79 468.07 534.29 467.81 534.79 467.64 535.29 468.08 535.79 468.1 536.28 468.07 536.78 468.07 537.28 468 537.78 468.12 538.28 468.03 538.77 467.6 539.27 468.02 539.77 468.03 540.27 468.09 540.77 468 541.26 467.99 541.76 468.05 542.26 467.98 542.76 468.08 543.25 467.84 543.75 467.94 544.25 468.11 544.75 467.95 545.25 467.89 545.74 467.3 546.24 468.07 546.74 467.95 547.24 468.1 547.74 467.98 548.23 468.03 548.73 468.04 549.23 467.93 549.73 468.09 550.23 468.02 550.72 468.04 551.22 467.55 L551.22 468.57Z"/>
<path d="M399.36 477.53 L399.36 477.04 399.85 476.87 400.35 477 400.85 476.57 401.35 476.88 401.85 476.91 402.34 476.99 402.84 476.73 403.34 477.05 403.84 477 404.34 477.02 404.83 476.98 405.33 476.72 405.83 476.23 406.33 474.82 406.82 473.31 407.32 473.07 407.82 474.43 408.32 475.71 408.82 476.36 409.31 476.92 409.81 476.84 410.31 476.92 410.81 477.06 411.31 477 411.8 476.93 412.3 476.99 412.8 477.02 413.3 477 413.8 476.95 414.29 477.06 414.79 476.7 415.29 476.93 415.79 476.76 416.29 476.83 416.78 477.06 417.28 476.67 417.78 476.91 418.28 476.95 418.77 477.06 419.27 476.9 419.77 476.83 420.27 476.97 420.77 477.04 421.26 476.88 421.76 476.93 422.26 476.85 422.76 476.67 423.26 476.57 423.75 476.94 424.25 476.92 424.75 476.73 425.25 476.73 425.75 477 426.24 476.77 426.74 476.53 427.24 476.47 427.74 477.04 428.24 476.95 428.73 476.87 429.23 476.82 429.73 476.3 430.23 476.92 430.72 476.97 431.22 476.99 431.72 477.06 432.22 476.58 432.72 476.73 433.21 476.83 433.71 476.93 434.21 476.99 434.71 476.97 435.21 476.99 435.7 476.92 436.2 476.97 436.7 477.01 437.2 476.91 437.7 477.02 438.19 477.01 438.69 476.72 439.19 476.71 439.69 476.04 440.19 476.87 440.68 476.15 441.18 476.78 441.68 476.92 442.18 476.75 442.68 476.98 443.17 476.82 443.67 476.38 444.17 476.72 444.67 476.56 445.16 476.51 445.66 476.8 446.16 476.67 446.66 476.74 447.16 476.87 447.65 476.84 448.15 477.04 448.65 476.86 449.15 476.17 449.65 476.25 450.14 476.98 450.64 476.87 451.14 476.8 451.64 476.24 452.14 476.51 452.63 476.35 453.13 476.47 453.63 476.72 454.13 476.68 454.63 476.92 455.12 476.7 455.62 476.9 456.12 476.88 456.62 476.51 457.11 476.78 457.61 476.41 458.11 476.58 458.61 475.88 459.11 475.96 459.6 475.24 460.1 475.42 460.6 475.68 461.1 475.63 461.6 475.46 462.09 476.11 462.59 475.78 463.09 474.6 463.59 472.85 464.09 472.15 464.58 472.98 465.08 475.23 465.58 475.23 466.08 474.81 466.58 473.14 467.07 472.3 467.57 472.8 468.07 475.32 468.57 474.53 469.06 475.7 469.56 476.45 470.06 475.96 470.56 476.12 471.06 476.86 471.55 476.5 472.05 475.94 472.55 476.58 473.05 476.82 473.55 476.71 474.04 477.04 474.54 476.55 475.04 476.22 475.54 476.9 476.04 476.98 476.53 476.93 477.03 477.04 477.53 476.86 478.03 476.69 478.53 475.55 479.02 476.95 479.52 476.54 480.02 476.7 480.52 476.85 481.01 476.76 481.51 476.34 482.01 476.78 482.51 477.06 483.01 476.35 483.5 476.79 484 474.63 484.5 471.69 485 470.05 485.5 472.33 485.99 475.37 486.49 476.87 486.99 476.32 487.49 476.34 487.99 476.94 488.48 477.01 488.98 477.06 489.48 476.91 489.98 476.82 490.48 476.17 490.97 476.31 491.47 476.82 491.97 476.45 492.47 476.92 492.96 476.76 493.46 476.05 493.96 475.65 494.46 476.59 494.96 476.59 495.45 476.77 495.95 476.93 496.45 476.85 496.95 477.06 497.45 476.82 497.94 476.09 498.44 476.6 498.94 476.88 499.44 476.72 499.94 476.68 500.43 476.83 500.93 477 501.43 476.84 501.93 476.97 502.43 476.83 502.92 476.61 503.42 476.94 503.92 477.06 504.42 476.39 504.92 475.64 505.41 476.98 505.91 477 506.41 476.94 506.91 476.96 507.4 476.98 507.9 476.94 508.4 476.91 508.9 477 509.4 476.78 509.89 476.85 510.39 477.07 510.89 476.87 511.39 476.99 511.89 476.6 512.38 476.94 512.88 476.68 513.38 476.88 513.88 476.79 514.38 476.44 514.87 476.87 515.37 476.72 515.87 476.98 516.37 477.06 516.87 476.97 517.36 477.06 517.86 477.05 518.36 476.8 518.86 476.93 519.35 476.95 519.85 476.95 520.35 476.64 520.85 476.93 521.35 476.92 521.84 477.06 522.34 476.98 522.84 476.71 523.34 476.9 523.84 476.77 524.33 477.04 524.83 476.63 525.33 476.97 525.83 477.01 526.33 477.01 526.82 477.08 527.32 477.03 527.82 477.08 528.32 476.69 528.82 476.68 529.31 476.69 529.81 476.98 530.31 476.77 530.81 476.9 531.3 477.03 531.8 476.96 532.3 476.97 532.8 476.96 533.3 477.05 533.79 477.05 534.29 476.98 534.79 476.99 535.29 476.83 535.79 476.96 536.28 476.91 536.78 476.99 537.28 477.03 537.78 476.86 538.28 476.84 538.77 476.89 539.27 477.02 539.77 477.05 540.27 476.94 540.77 477 541.26 476.99 541.76 476.88 542.26 477.01 542.76 476.87 543.25 476.99 543.75 476.9 544.25 476.91 544.75 476.91 545.25 476.94 545.74 477.01 546.24 477.07 546.74 476.84 547.24 477.05 547.74 476.79 548.23 477.01 548.73 477.01 549.23 476.95 549.73 477.05 550.23 476.94 550.72 476.97 551.22 477.08 L551.22 477.53Z"/>
<path d="M399.36 486.49 L399.36 485.82 399.85 485.77 400.35 486 400.85 485.91 401.35 485.79 401.85 486.02 402.34 485.84 402.84 485.77 403.34 485.89 403.84 485.86 404.34 485.64 404.83 485.4 405.33 485.58 405.83 484.9 406.33 483.55 406.82 482.32 407.32 482.11 407.82 483.19 408.32 484.48 408.82 485.24 409.31 485.92 409.81 485.88 410.31 485.76 410.81 485.99 411.31 485.83 411.8 485.89 412.3 485.98 412.8 485.77 413.3 485.72 413.8 485.56 414.29 485.97 414.79 486.03 415.29 485.72 415.79 485.98 416.29 485.79 416.78 485.65 417.28 485.67 417.78 486.01 418.28 485.72 418.77 485.96 419.27 486.01 419.77 485.89 420.27 485.98 420.77 486.01 421.26 485.79 421.76 485.36 422.26 485.99 422.76 485.92 423.26 485.95 423.75 486.01 424.25 484.83 424.75 485.94 425.25 486 425.75 485.89 426.24 485.82 426.74 485.8 427.24 485.73 427.74 485.7 428.24 485.73 428.73 485.86 429.23 485.84 429.73 485.75 430.23 485.98 430.72 485.71 431.22 485.67 431.72 485.47 432.22 485.36 432.72 485.85 433.21 485.75 433.71 484.58 434.21 485.8 434.71 485.8 435.21 485.72 435.7 485.65 436.2 486.02 436.7 486.04 437.2 485.08 437.7 485.94 438.19 485.91 438.69 485.69 439.19 485.8 439.69 486.02 440.19 485.04 440.68 485.79 441.18 485.61 441.68 485.89 442.18 485.68 442.68 485.85 443.17 485.72 443.67 485.94 444.17 485.96 444.67 485.47 445.16 485.93 445.66 485.97 446.16 486 446.66 485.85 447.16 485.68 447.65 485.94 448.15 484.85 448.65 485.93 449.15 485.81 449.65 485.7 450.14 485.91 450.64 485.82 451.14 485.85 451.64 485.65 452.14 485.57 452.63 484.88 453.13 485.2 453.63 485.28 454.13 485.02 454.63 484.81 455.12 484.44 455.62 484.7 456.12 484.47 456.62 483.83 457.11 484.51 457.61 483.82 458.11 484.38 458.61 483.68 459.11 484.87 459.6 484.82 460.1 484.86 460.6 484.47 461.1 485 461.6 485.05 462.09 484.22 462.59 483.11 463.09 482.01 463.59 482.51 464.09 483.62 464.58 484.63 465.08 484.29 465.58 483.89 466.08 483.49 466.58 481.8 467.07 481.46 467.57 482.15 468.07 483.51 468.57 485.15 469.06 485.29 469.56 484.77 470.06 484.95 470.56 485.35 471.06 485.59 471.55 485.18 472.05 485.53 472.55 485.22 473.05 485.55 473.55 485.49 474.04 485.87 474.54 485.7 475.04 485.98 475.54 485.28 476.04 484.86 476.53 485.61 477.03 485.98 477.53 485.5 478.03 485.96 478.53 485.57 479.02 485.88 479.52 485.33 480.02 485.3 480.52 483.72 481.01 481.96 481.51 483.39 482.01 485.2 482.51 485.37 483.01 485.2 483.5 485.46 484 484.86 484.5 481.05 485 480.06 485.5 482.56 485.99 485.47 486.49 485.79 486.99 486.03 487.49 485.85 487.99 484.91 488.48 482.38 488.98 481.48 489.48 484.27 489.98 485.36 490.48 485.61 490.97 485.79 491.47 485.99 491.97 485.34 492.47 485.44 492.96 484.85 493.46 485.03 493.96 484.6 494.46 484.25 494.96 484.5 495.45 485.24 495.95 485.79 496.45 485.9 496.95 485.99 497.45 485.93 497.94 485.4 498.44 485.94 498.94 485.91 499.44 485.59 499.94 485.73 500.43 485.68 500.93 485.51 501.43 485.75 501.93 485.78 502.43 485.84 502.92 486 503.42 485.8 503.92 485.82 504.42 485.9 504.92 485.43 505.41 485.65 505.91 485.88 506.41 485.58 506.91 485.6 507.4 485.86 507.9 486.02 508.4 485.86 508.9 485.44 509.4 486 509.89 485.95 510.39 485.95 510.89 485.91 511.39 485.98 511.89 485.51 512.38 485.79 512.88 485.83 513.38 485.97 513.88 485.68 514.38 485.9 514.87 485.59 515.37 485.97 515.87 485.78 516.37 485.99 516.87 486 517.36 485.68 517.86 485.75 518.36 485.93 518.86 486.02 519.35 485.43 519.85 485.84 520.35 485.91 520.85 485.94 521.35 485.9 521.84 485.98 522.34 485.78 522.84 485.92 523.34 485.9 523.84 485.86 524.33 485.98 524.83 485.78 525.33 486 525.83 485.99 526.33 485.79 526.82 486 527.32 485.7 527.82 485.83 528.32 486.01 528.82 485.97 529.31 485.9 529.81 485.86 530.31 485.21 530.81 485.07 531.3 484.61 531.8 484.48 532.3 484.76 532.8 485.22 533.3 485.78 533.79 485.97 534.29 485.94 534.79 485.61 535.29 486 535.79 485.81 536.28 485.82 536.78 485.8 537.28 485.76 537.78 485.75 538.28 486.03 538.77 485.77 539.27 485.9 539.77 485.8 540.27 485.8 540.77 485.82 541.26 485.96 541.76 485.91 542.26 485.78 542.76 485.9 543.25 485.85 543.75 485.88 544.25 485.94 544.75 485.94 545.25 485.84 545.74 485.86 546.24 485.91 546.74 485.91 547.24 485.88 547.74 486.03 548.23 485.25 548.73 485.8 549.23 485.85 549.73 485.95 550.23 485.94 550.72 485.76 551.22 485.93 L551.22 486.49Z"/>
<path d="M399.36 495.45 L399.36 494.89 399.85 494.86 400.35 494.97 400.85 494.98 401.35 494.85 401.85 494.96 402.34 494.98 402.84 494.59 403.34 494.72 403.84 494.42 404.34 494.86 404.83 494.88 405.33 494.61 405.83 493.91 406.33 492.31 406.82 490.99 407.32 491.1 407.82 492.15 408.32 493.53 408.82 494.54 409.31 494.64 409.81 494.82 410.31 494.94 410.81 494.97 411.31 494.88 411.8 494.29 412.3 493.88 412.8 494.56 413.3 494.81 413.8 494.62 414.29 494.84 414.79 494.87 415.29 494.8 415.79 494.79 416.29 494.97 416.78 494.97 417.28 494.92 417.78 495 418.28 494.61 418.77 494.79 419.27 494.87 419.77 494.87 420.27 494.82 420.77 494.78 421.26 494.78 421.76 494.87 422.26 494.84 422.76 494.61 423.26 494.76 423.75 494.8 424.25 494.97 424.75 494.95 425.25 494.91 425.75 494.82 426.24 494.85 426.74 494.9 427.24 494.82 427.74 494.9 428.24 494.67 428.73 494.99 429.23 494.64 429.73 494.34 430.23 494.93 430.72 494.97 431.22 494.68 431.72 494.93 432.22 494.81 432.72 494.93 433.21 494.01 433.71 494.77 434.21 494.71 434.71 494.97 435.21 494.71 435.7 494.8 436.2 494.75 436.7 494.77 437.2 494.32 437.7 494.76 438.19 494.43 438.69 494.74 439.19 494.96 439.69 494.99 440.19 494.48 440.68 494.75 441.18 494.84 441.68 494.28 442.18 494.57 442.68 494.71 443.17 494.6 443.67 494.84 444.17 494.32 444.67 494.27 445.16 494.8 445.66 494.45 446.16 494.98 446.66 493.95 447.16 494.54 447.65 494.87 448.15 494.99 448.65 494.86 449.15 494.27 449.65 494.7 450.14 494.93 450.64 494.94 451.14 494.9 451.64 494.95 452.14 494.38 452.63 494.83 453.13 494.71 453.63 494.39 454.13 494.96 454.63 494.53 455.12 494.94 455.62 494.85 456.12 494.81 456.62 494.77 457.11 494.48 457.61 494.92 458.11 494.47 458.61 494.73 459.11 494.55 459.6 494.69 460.1 494.59 460.6 493.24 461.1 491.9 461.6 491.11 462.09 491.1 462.59 493.41 463.09 493.67 463.59 493.33 464.09 491.9 464.58 490.58 465.08 491.09 465.58 492.13 466.08 493.06 466.58 493.31 467.07 491.01 467.57 490.85 468.07 491.07 468.57 493.02 469.06 493.49 469.56 494.35 470.06 493.57 470.56 492.53 471.06 493.71 471.55 494.1 472.05 493.47 472.55 493.69 473.05 493.73 473.55 493.93 474.04 494.61 474.54 494.79 475.04 494.3 475.54 494.58 476.04 494.77 476.53 494.57 477.03 494.99 477.53 494.52 478.03 494.85 478.53 494.52 479.02 494.37 479.52 493.47 480.02 494.62 480.52 494.83 481.01 494.31 481.51 494.82 482.01 494.81 482.51 494.84 483.01 494.8 483.5 494.46 484 493.15 484.5 490.21 485 489 485.5 491.16 485.99 493.72 486.49 494.76 486.99 494.27 487.49 494.71 487.99 494.97 488.48 494.82 488.98 494.7 489.48 494.6 489.98 494.9 490.48 494.93 490.97 494.36 491.47 494.87 491.97 494.76 492.47 494.8 492.96 494.56 493.46 494.91 493.96 494.94 494.46 494.72 494.96 494.83 495.45 494.28 495.95 494.96 496.45 494.83 496.95 494.92 497.45 494.9 497.94 494.57 498.44 494.64 498.94 494.11 499.44 494.95 499.94 494.67 500.43 494.52 500.93 494.48 501.43 494.72 501.93 494.41 502.43 494.46 502.92 494.07 503.42 493.67 503.92 493.18 504.42 494.26 504.92 494.64 505.41 494.72 505.91 494.9 506.41 494.96 506.91 494.69 507.4 494.72 507.9 494.97 508.4 494.84 508.9 494.74 509.4 494.74 509.89 494.96 510.39 494.88 510.89 494.57 511.39 494.85 511.89 494.71 512.38 494.71 512.88 494.86 513.38 494.71 513.88 494.76 514.38 494.78 514.87 494.77 515.37 494.79 515.87 494.27 516.37 494.7 516.87 494.87 517.36 494.85 517.86 494.96 518.36 494.93 518.86 494.99 519.35 494.88 519.85 494.82 520.35 494.76 520.85 494.94 521.35 494.73 521.84 494.89 522.34 494.88 522.84 494.86 523.34 494.96 523.84 494.96 524.33 494.96 524.83 494.94 525.33 494.73 525.83 494.83 526.33 494.84 526.82 494.52 527.32 494.34 527.82 494.8 528.32 494.85 528.82 494.3 529.31 494.97 529.81 494.85 530.31 494.99 530.81 494.83 531.3 494.72 531.8 494.95 532.3 494.83 532.8 494.4 533.3 494.93 533.79 494.73 534.29 494.84 534.79 494.77 535.29 494.91 535.79 494.78 536.28 494.99 536.78 494.95 537.28 494.83 537.78 494.62 538.28 494.98 538.77 494.95 539.27 494.81 539.77 494.9 540.27 494.9 540.77 494.91 541.26 494.9 541.76 494.99 542.26 494.54 542.76 494.73 543.25 494.94 543.75 494.66 544.25 494.82 544.75 494.85 545.25 494.08 545.74 492.87 546.24 491.14 546.74 491.59 547.24 493.57 547.74 494.61 548.23 494.9 548.73 494.98 549.23 494.92 549.73 494.81 550.23 494.89 550.72 494.42 551.22 493.25 L551.22 495.45Z"/>
</g>
<circle cx="407.3" cy="498" r="0.7" fill="#23509c"/>
<text class="lr" x="356.7" y="34.05" textLength="20.2" lengthAdjust="spacingAndGlyphs">194 <tspan dy="-0.6">–</tspan></text><text class="lb" x="356.7" y="43.02" textLength="20.2" lengthAdjust="spacingAndGlyphs">190 +</text><text class="lb" x="356.7" y="51.99" textLength="20.2" lengthAdjust="spacingAndGlyphs">193 +</text><text class="lb" x="356.7" y="60.96" textLength="20.2" lengthAdjust="spacingAndGlyphs">192 <tspan dy="-0.6">–</tspan></text><text class="lr" x="356.7" y="69.93" textLength="20.2" lengthAdjust="spacingAndGlyphs">191 <tspan dy="-0.6">–</tspan></text><text class="lr" x="356.7" y="78.9" textLength="20.2" lengthAdjust="spacingAndGlyphs">188 +</text><text class="lb" x="356.7" y="87.87" textLength="20.2" lengthAdjust="spacingAndGlyphs">192 +</text><text class="lb" x="356.7" y="96.84" textLength="20.2" lengthAdjust="spacingAndGlyphs">191 +</text><text class="lb" x="356.7" y="105.81" textLength="20.2" lengthAdjust="spacingAndGlyphs">187 +</text><text class="lb" x="356.7" y="114.78" textLength="20.2" lengthAdjust="spacingAndGlyphs">158 +</text><text class="lb" x="356.7" y="123.75" textLength="20.2" lengthAdjust="spacingAndGlyphs">187 <tspan dy="-0.6">–</tspan></text><text class="lb" x="356.7" y="132.72" textLength="20.2" lengthAdjust="spacingAndGlyphs">158 <tspan dy="-0.6">–</tspan></text><text class="lb" x="356.7" y="141.69" textLength="20.2" lengthAdjust="spacingAndGlyphs">161 <tspan dy="-0.6">–</tspan></text><text class="lb" x="356.7" y="150.66" textLength="20.2" lengthAdjust="spacingAndGlyphs">157 <tspan dy="-0.6">–</tspan></text><text class="lr" x="356.7" y="159.63" textLength="20.2" lengthAdjust="spacingAndGlyphs">190 <tspan dy="-0.6">–</tspan></text><text class="lr" x="356.7" y="168.6" textLength="20.2" lengthAdjust="spacingAndGlyphs">171 <tspan dy="-0.6">–</tspan></text><text class="lr" x="356.7" y="177.57" textLength="20.2" lengthAdjust="spacingAndGlyphs">193 <tspan dy="-0.6">–</tspan></text><text class="lr" x="356.7" y="186.54" textLength="20.2" lengthAdjust="spacingAndGlyphs">188 <tspan dy="-0.6">–</tspan></text>
<text class="lb" x="359.9" y="269.8" textLength="20.2" lengthAdjust="spacingAndGlyphs">199 <tspan dy="-0.6">–</tspan></text><text class="lb" x="359.9" y="278.79" textLength="20.2" lengthAdjust="spacingAndGlyphs">182 <tspan dy="-0.6">–</tspan></text><text class="lb" x="359.9" y="287.77" textLength="20.2" lengthAdjust="spacingAndGlyphs">189 <tspan dy="-0.6">–</tspan></text><text class="lb" x="359.9" y="296.75" textLength="20.2" lengthAdjust="spacingAndGlyphs">192 <tspan dy="-0.6">–</tspan></text><text class="lr" x="359.9" y="305.74" textLength="20.2" lengthAdjust="spacingAndGlyphs">193 <tspan dy="-0.6">–</tspan></text><text class="lr" x="359.9" y="314.73" textLength="20.2" lengthAdjust="spacingAndGlyphs">188 <tspan dy="-0.6">–</tspan></text><text class="lb" x="359.9" y="323.71" textLength="20.2" lengthAdjust="spacingAndGlyphs">159 <tspan dy="-0.6">–</tspan></text><text class="lr" x="359.9" y="332.69" textLength="20.2" lengthAdjust="spacingAndGlyphs">194 <tspan dy="-0.6">–</tspan></text><text class="lr" x="359.9" y="341.68" textLength="20.2" lengthAdjust="spacingAndGlyphs">191 <tspan dy="-0.6">–</tspan></text><text class="lb" x="359.9" y="350.67" textLength="20.2" lengthAdjust="spacingAndGlyphs">198 <tspan dy="-0.6">–</tspan></text><text class="lb" x="359.9" y="359.65" textLength="20.2" lengthAdjust="spacingAndGlyphs">178 <tspan dy="-0.6">–</tspan></text><text class="lb" x="359.9" y="368.63" textLength="20.2" lengthAdjust="spacingAndGlyphs">200 <tspan dy="-0.6">–</tspan></text><text class="lb" x="359.9" y="377.62" textLength="20.2" lengthAdjust="spacingAndGlyphs">176 <tspan dy="-0.6">–</tspan></text><text class="lr" x="359.9" y="386.61" textLength="20.2" lengthAdjust="spacingAndGlyphs">190 <tspan dy="-0.6">–</tspan></text><text class="lr" x="359.9" y="395.59" textLength="20.2" lengthAdjust="spacingAndGlyphs">171 <tspan dy="-0.6">–</tspan></text><text class="lb" x="359.9" y="404.57" textLength="20.2" lengthAdjust="spacingAndGlyphs">168 <tspan dy="-0.6">–</tspan></text><text class="lb" x="359.9" y="413.56" textLength="20.2" lengthAdjust="spacingAndGlyphs">170 <tspan dy="-0.6">–</tspan></text><text class="lb" x="359.9" y="422.55" textLength="20.2" lengthAdjust="spacingAndGlyphs">197 <tspan dy="-0.6">–</tspan></text><text class="lb" x="359.9" y="431.53" textLength="20.2" lengthAdjust="spacingAndGlyphs">184 <tspan dy="-0.6">–</tspan></text><text class="lb" x="359.9" y="440.51" textLength="20.2" lengthAdjust="spacingAndGlyphs">163 <tspan dy="-0.6">–</tspan></text><text class="lb" x="359.9" y="449.5" textLength="20.2" lengthAdjust="spacingAndGlyphs">173 <tspan dy="-0.6">–</tspan></text><text class="lb" x="359.9" y="458.49" textLength="20.2" lengthAdjust="spacingAndGlyphs">162 <tspan dy="-0.6">–</tspan></text><text class="lb" x="359.9" y="467.47" textLength="20.2" lengthAdjust="spacingAndGlyphs">157 <tspan dy="-0.6">–</tspan></text><text class="lb" x="359.9" y="476.45" textLength="20.2" lengthAdjust="spacingAndGlyphs">174 <tspan dy="-0.6">–</tspan></text><text class="lb" x="359.9" y="485.44" textLength="20.2" lengthAdjust="spacingAndGlyphs">166 <tspan dy="-0.6">–</tspan></text><text class="lb" x="359.9" y="494.43" textLength="20.2" lengthAdjust="spacingAndGlyphs">161 <tspan dy="-0.6">–</tspan></text>
<text class="ax" x="190.75" y="525.2" textLength="20.3" lengthAdjust="spacingAndGlyphs">1.5</text><text class="ax" x="240.3" y="525.2" textLength="21" lengthAdjust="spacingAndGlyphs">1.0</text><text class="ax" x="288.35" y="525.2" textLength="23.3" lengthAdjust="spacingAndGlyphs">0.5</text><text class="ax" x="339.75" y="525.2" textLength="23.3" lengthAdjust="spacingAndGlyphs">0.0</text><text class="ax" x="393" y="525.7" textLength="9.6" lengthAdjust="spacingAndGlyphs">0</text><text class="ax" x="544.6" y="525.7" textLength="17.6" lengthAdjust="spacingAndGlyphs">10</text>
<text x="133" y="553.4" style="font-size:17.6px;stroke:#1a1a1a;stroke-width:0.3px" textLength="218.5" lengthAdjust="spacingAndGlyphs">square root of distance</text>
<text class="tt" x="20.3" y="40.2" textLength="71.5" lengthAdjust="spacingAndGlyphs">LC-DAD</text>
<text class="tt jp" x="97.3" y="41.3" textLength="46" lengthAdjust="spacingAndGlyphs">データ</text>
<text class="tt jp" x="20.3" y="61.5" textLength="95.5" lengthAdjust="spacingAndGlyphs">による系統樹</text>
<text class="tt" x="20.3" y="278.6" textLength="73" lengthAdjust="spacingAndGlyphs">LC-MSD</text>
<text class="tt jp" x="99.7" y="279.6" textLength="46" lengthAdjust="spacingAndGlyphs">データ</text>
<text class="tt" x="153.8" y="278.6" textLength="42" lengthAdjust="spacingAndGlyphs">(TIC)</text>
<text class="tt jp" x="20.3" y="299.8" textLength="95.5" lengthAdjust="spacingAndGlyphs">による系統樹</text>
<text class="jp" x="414" y="554.9" style="font-size:16.7px;font-weight:bold;fill:#1a1a1a" textLength="66.5" lengthAdjust="spacingAndGlyphs">保持時間</text>
<text x="487.8" y="553.8" style="font-size:17px;stroke:#1a1a1a;stroke-width:0.35px" textLength="47.5" lengthAdjust="spacingAndGlyphs">(min)</text>
</svg>
</body></html>
